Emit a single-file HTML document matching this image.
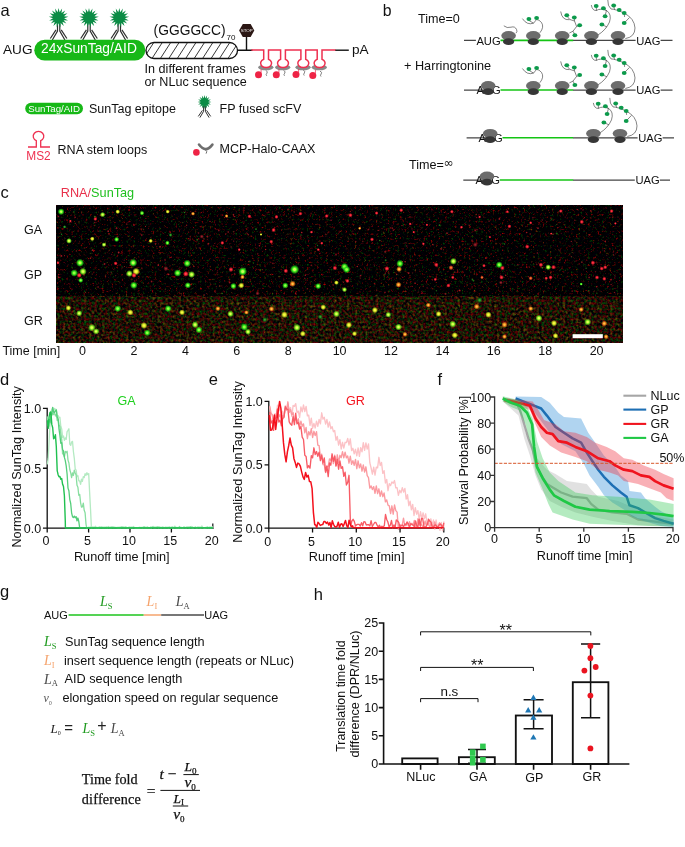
<!DOCTYPE html>
<html lang="en"><head><meta charset="utf-8"><title>Figure</title>
<style>
html,body{margin:0;padding:0;background:#fff;}
body{width:685px;height:847px;overflow:hidden;}
svg{display:block;font-family:"Liberation Sans", sans-serif;}
text{white-space:pre;}
</style></head><body>
<svg width="685" height="847" viewBox="0 0 685 847">
<rect width="685" height="847" fill="#fff"/>
<!-- panel_a -->
<g>
<text x="0.5" y="15.6" font-size="16.5" fill="#111">a</text>
<text x="3" y="54.4" font-size="13.6" fill="#111">AUG</text>
<path d="M57.5 23.5 V31.1 L52.3 40" fill="none" stroke="#2e2e2e" stroke-width="1.2"/><path d="M56 29.9 L50.3 38.5" fill="none" stroke="#2e2e2e" stroke-width="1.2"/><path d="M59.8 23.5 V31.1 L64.9 40" fill="none" stroke="#2e2e2e" stroke-width="1.2"/><path d="M61.2 29.9 L66.9 38.5" fill="none" stroke="#2e2e2e" stroke-width="1.2"/>
<polygon points="58.6,7.9 59.6,12.2 62.1,8.6 61.5,12.9 65.2,10.5 63.1,14.3 67.4,13.3 64,16.2 68.4,16.8 64.2,18.2 68,20.4 63.6,20.2 66.4,23.6 62.4,21.8 63.8,26 60.6,22.9 60.4,27.3 58.6,23.3 56.8,27.3 56.6,22.9 53.4,26 54.8,21.8 50.8,23.6 53.6,20.2 49.2,20.4 53,18.2 48.8,16.8 53.2,16.2 49.8,13.3 54.1,14.3 52,10.5 55.7,12.9 55.1,8.6 57.6,12.2" fill="#0b8c45"/>
<path d="M87.8 23.5 V31.1 L82.7 40" fill="none" stroke="#2e2e2e" stroke-width="1.2"/><path d="M86.4 29.9 L80.7 38.5" fill="none" stroke="#2e2e2e" stroke-width="1.2"/><path d="M90.2 23.5 V31.1 L95.3 40" fill="none" stroke="#2e2e2e" stroke-width="1.2"/><path d="M91.6 29.9 L97.3 38.5" fill="none" stroke="#2e2e2e" stroke-width="1.2"/>
<polygon points="89,7.9 90,12.2 92.5,8.6 91.9,12.9 95.6,10.5 93.5,14.3 97.8,13.3 94.4,16.2 98.8,16.8 94.6,18.2 98.4,20.4 94,20.2 96.8,23.6 92.8,21.8 94.2,26 91,22.9 90.8,27.3 89,23.3 87.2,27.3 87,22.9 83.8,26 85.2,21.8 81.2,23.6 84,20.2 79.6,20.4 83.4,18.2 79.2,16.8 83.6,16.2 80.2,13.3 84.5,14.3 82.4,10.5 86.1,12.9 85.5,8.6 88,12.2" fill="#0b8c45"/>
<path d="M118.1 23.5 V31.1 L113 40" fill="none" stroke="#2e2e2e" stroke-width="1.2"/><path d="M116.7 29.9 L111 38.5" fill="none" stroke="#2e2e2e" stroke-width="1.2"/><path d="M120.5 23.5 V31.1 L125.6 40" fill="none" stroke="#2e2e2e" stroke-width="1.2"/><path d="M121.9 29.9 L127.6 38.5" fill="none" stroke="#2e2e2e" stroke-width="1.2"/>
<polygon points="119.3,7.9 120.3,12.2 122.8,8.6 122.2,12.9 125.9,10.5 123.8,14.3 128.1,13.3 124.7,16.2 129.1,16.8 124.9,18.2 128.7,20.4 124.3,20.2 127.1,23.6 123.1,21.8 124.5,26 121.3,22.9 121.1,27.3 119.3,23.3 117.5,27.3 117.3,22.9 114.1,26 115.5,21.8 111.5,23.6 114.3,20.2 109.9,20.4 113.7,18.2 109.5,16.8 113.9,16.2 110.5,13.3 114.8,14.3 112.7,10.5 116.4,12.9 115.8,8.6 118.3,12.2" fill="#0b8c45"/>
<rect x="34.3" y="39.8" width="111" height="20.8" rx="10.4" fill="#17b817"/>
<text x="41" y="53.0" font-size="13.8" fill="#fff">24xSunTag/AID</text>
<defs><clipPath id="capc"><rect x="146" y="42.5" width="91.5" height="16" rx="8"/></clipPath></defs>
<rect x="146" y="42.5" width="91.5" height="16" rx="8" fill="#fff"/>
<path d="M143.3 58.8 L154.1 42 M151.8 58.8 L162.6 42 M160.2 58.8 L171 42 M168.6 58.8 L179.4 42 M177.1 58.8 L187.9 42 M185.5 58.8 L196.3 42 M194 58.8 L204.8 42 M202.4 58.8 L213.2 42 M210.9 58.8 L221.7 42 M219.3 58.8 L230.1 42 M227.8 58.8 L238.6 42 M236.2 58.8 L247 42" stroke="#222" stroke-width="0.9" fill="none" clip-path="url(#capc)"/>
<rect x="146" y="42.5" width="91.5" height="16" rx="8" fill="none" stroke="#111" stroke-width="1.3"/>
<text x="153.6" y="34.6" font-size="13.8" fill="#111">(GGGGCC)</text>
<text x="226.6" y="40" font-size="8" fill="#111">70</text>
<text x="144.6" y="72.7" font-size="12.6" fill="#111">In different frames</text>
<text x="144.6" y="85.8" font-size="12.6" fill="#111">or NLuc sequence</text>
<path d="M237.5 50.2 H252.5 M246.5 50.2 V36" stroke="#111" stroke-width="1.4" fill="none"/>
<path d="M335 50.2 H348.8" stroke="#111" stroke-width="1.4" fill="none"/>
<polygon points="239.1,30.5 242.8,24.1 250.6,24.1 254.3,30.5 250.6,36.9 242.8,36.9" fill="#2b1714"/>
<text x="246.7" y="32.0" font-size="4.4" fill="#fff" text-anchor="middle">STOP</text>
<path d="M252 50.1 H263.7 M268.5 50.1 H280.6 M285.4 50.1 H300.9 M305.7 50.1 H317.2 M322 50.1 H334.8" stroke="#ee2f4f" stroke-width="1.5" fill="none" stroke-linecap="square"/>
<ellipse cx="265.8" cy="67.3" rx="7.6" ry="3.0" fill="#8a8a8a"/>
<path d="M263.7 50.1 V59.2 A5.5 4.4 0 1 0 268.5 59.2 V50.1" fill="#fff" stroke="#ee2f4f" stroke-width="1.5"/>
<ellipse cx="282.7" cy="67.3" rx="7.6" ry="3.0" fill="#8a8a8a"/>
<path d="M280.6 50.1 V59.2 A5.5 4.4 0 1 0 285.4 59.2 V50.1" fill="#fff" stroke="#ee2f4f" stroke-width="1.5"/>
<ellipse cx="303" cy="67.3" rx="7.6" ry="3.0" fill="#8a8a8a"/>
<path d="M300.9 50.1 V59.2 A5.5 4.4 0 1 0 305.7 59.2 V50.1" fill="#fff" stroke="#ee2f4f" stroke-width="1.5"/>
<ellipse cx="319.3" cy="67.3" rx="7.6" ry="3.0" fill="#8a8a8a"/>
<path d="M317.2 50.1 V59.2 A5.5 4.4 0 1 0 322 59.2 V50.1" fill="#fff" stroke="#ee2f4f" stroke-width="1.5"/>
<path d="M261.1 72.8 V69.3" stroke="#ee2345" stroke-width="0.7"/>
<circle cx="258.5" cy="74.8" r="3.5" fill="#ee2345"/>
<path d="M265.7 70.4 q2.6 1.2 1.2 2.8 q-1.4 1.4 -0.2 2.6" stroke="#707070" stroke-width="0.9" fill="none"/>
<path d="M278.9 72.8 V69.3" stroke="#ee2345" stroke-width="0.7"/>
<circle cx="276.3" cy="74.8" r="3.5" fill="#ee2345"/>
<path d="M283.5 70.4 q2.6 1.2 1.2 2.8 q-1.4 1.4 -0.2 2.6" stroke="#707070" stroke-width="0.9" fill="none"/>
<path d="M298.6 72.5 V69" stroke="#ee2345" stroke-width="0.7"/>
<circle cx="296.0" cy="74.5" r="3.5" fill="#ee2345"/>
<path d="M303.2 70.1 q2.6 1.2 1.2 2.8 q-1.4 1.4 -0.2 2.6" stroke="#707070" stroke-width="0.9" fill="none"/>
<path d="M315.4 73.5 V70" stroke="#ee2345" stroke-width="0.7"/>
<circle cx="312.8" cy="75.5" r="3.5" fill="#ee2345"/>
<path d="M320 71.1 q2.6 1.2 1.2 2.8 q-1.4 1.4 -0.2 2.6" stroke="#707070" stroke-width="0.9" fill="none"/>
<text x="352" y="54.4" font-size="13.6" fill="#111">pA</text>
<rect x="25.2" y="102.7" width="57.8" height="11.5" rx="5.75" fill="#17b817"/>
<text x="54.1" y="111.9" font-size="9.7" fill="#fff" text-anchor="middle">SunTag/AID</text>
<text x="89" y="112.9" font-size="12.5" fill="#111">SunTag epitope</text>
<path d="M203.6 106 V111.3 L199.9 117.6" fill="none" stroke="#2e2e2e" stroke-width="1"/><path d="M202.4 110.4 L198.3 116.4" fill="none" stroke="#2e2e2e" stroke-width="1"/><path d="M205.4 106 V111.3 L209.1 117.6" fill="none" stroke="#2e2e2e" stroke-width="1"/><path d="M206.6 110.4 L210.7 116.4" fill="none" stroke="#2e2e2e" stroke-width="1"/>
<polygon points="204.5,95.1 205.3,98.2 207.1,95.6 206.7,98.8 209.4,97.1 207.7,99.8 210.9,99.4 208.3,101.2 211.4,102 208.3,102.8 210.9,104.6 207.7,104.2 209.4,106.9 206.7,105.2 207.1,108.4 205.3,105.8 204.5,108.9 203.7,105.8 201.9,108.4 202.3,105.2 199.6,106.9 201.3,104.2 198.1,104.6 200.7,102.8 197.6,102 200.7,101.2 198.1,99.4 201.3,99.8 199.6,97.1 202.3,98.8 201.9,95.6 203.7,98.2" fill="#0b8c45"/>
<text x="219.6" y="113.2" font-size="12.5" fill="#111">FP fused scFV</text>
<path d="M28 147 H36.3 V140.6 A5.3 4.8 0 1 1 40.7 140.6 V147 H50" fill="none" stroke="#ee2f4f" stroke-width="1.3"/>
<text x="38.5" y="159.7" font-size="11.9" fill="#ee2f4f" text-anchor="middle">MS2</text>
<text x="57.6" y="153.8" font-size="12.5" fill="#111">RNA stem loops</text>
<circle cx="196.4" cy="152.4" r="3.3" fill="#ee2345"/>
<path d="M199 144.6 Q205.6 153.6 212.4 144.6" fill="none" stroke="#6e6e6e" stroke-width="2.6" stroke-linecap="round"/><path d="M205.5 150 q2.2 1.5 0.6 3.6" fill="none" stroke="#6e6e6e" stroke-width="1"/>
<text x="219.6" y="153.4" font-size="12.5" fill="#111">MCP-Halo-CAAX</text>
</g>
<!-- panel_b -->
<g>
<text x="382.8" y="16.4" font-size="15.8" fill="#111">b</text>
<text x="418" y="23" font-size="12.6" fill="#111">Time=0</text>
<text x="404" y="69.8" font-size="12.7" fill="#111">+ Harringtonine</text>
<text x="409" y="168.7" font-size="12.6" fill="#111">Time=<tspan dx="-0.4" dy="-1.3" font-size="12.2" font-family='"DejaVu Sans", "Liberation Sans", sans-serif'>∞</tspan></text>
<path d="M464 40.4 H475.9 M573 40.4 H635.6 M660.6 40.4 H672.5" stroke="#464646" stroke-width="1.25" fill="none"/>
<path d="M500.5 40.4 H573.2" stroke="#14c414" stroke-width="1.6" fill="none"/>
<text x="476.4" y="44.5" font-size="11.2" fill="#111">AUG</text>
<text x="636.2" y="44.5" font-size="11.2" fill="#111">UAG</text>
<path d="M464 90.0 H486.4 M573 90.0 H635.6 M660.6 90.0 H672.5" stroke="#464646" stroke-width="1.25" fill="none"/>
<path d="M500.5 90.0 H573.2" stroke="#14c414" stroke-width="1.6" fill="none"/>
<text x="476.4" y="94.1" font-size="11.2" fill="#111">AUG</text>
<text x="636.2" y="94.1" font-size="11.2" fill="#111">UAG</text>
<path d="M466.6 137.8 H488.4 M573 137.8 H637.6 M662.6 137.8 H674" stroke="#464646" stroke-width="1.25" fill="none"/>
<path d="M502.5 137.8 H573.2" stroke="#14c414" stroke-width="1.6" fill="none"/>
<text x="478.4" y="141.9" font-size="11.2" fill="#111">AUG</text>
<text x="638.2" y="141.9" font-size="11.2" fill="#111">UAG</text>
<path d="M463.3 180.0 H485.6 M573 180.0 H634.8 M659.8 180.0 H670" stroke="#464646" stroke-width="1.25" fill="none"/>
<path d="M499.7 180.0 H573.2" stroke="#14c414" stroke-width="1.6" fill="none"/>
<text x="475.59999999999997" y="184.1" font-size="11.2" fill="#111">AUG</text>
<text x="635.4000000000001" y="184.1" font-size="11.2" fill="#111">UAG</text>
<path transform="translate(0 0)" d="M503.8 25.8 Q507 28.5 511 27.2 T516.6 29.6 Q517.6 31.5 516 33.2" fill="none" stroke="#333" stroke-width="0.6"/>
<path transform="translate(0 0)" d="M539.9 32.8 Q544.5 27 541.5 22.5 Q539 19.5 536.6 19.5 L533.5 23.2 L529 20.5 M533.5 23.2 Q527 25.5 522.4 18.6" fill="none" stroke="#333" stroke-width="0.6"/>
<ellipse cx="528.9" cy="19" rx="2.4" ry="2.0" fill="#0c9a4b"/><ellipse cx="536.6" cy="18" rx="2.4" ry="2.0" fill="#0c9a4b"/>
<path transform="translate(0 0)" d="M569.4 33 L573 31.2 L575 35 M573 31.2 L576.6 26.5 L579.7 25.2 M576.6 26.5 L574.5 21 L574.3 17.8 M574.5 21 Q569 20.5 566.8 16 M569.5 19.7 Q562 20.5 560.7 11.5" fill="none" stroke="#333" stroke-width="0.6"/>
<ellipse cx="566.8" cy="15.3" rx="2.4" ry="2.0" fill="#0c9a4b"/><ellipse cx="574.3" cy="17.5" rx="2.4" ry="2.0" fill="#0c9a4b"/><ellipse cx="579.7" cy="25.2" rx="2.4" ry="2.0" fill="#0c9a4b"/><ellipse cx="574.9" cy="35.2" rx="2.4" ry="2.0" fill="#0c9a4b"/>
<path transform="translate(0 0)" d="M597.9 35 Q606 30 609.5 22 Q612 14 606.5 10.5 L603.4 8.5 M606.5 10.5 L605.1 15.5 M606.5 10.5 Q600 8 596.5 10.5 Q592.5 11 591.3 5 M596.5 10.5 L596.2 6.2 M607 27 L602 24.6" fill="none" stroke="#333" stroke-width="0.6"/>
<ellipse cx="596.2" cy="5.9" rx="2.4" ry="2.0" fill="#0c9a4b"/><ellipse cx="603.4" cy="8.3" rx="2.4" ry="2.0" fill="#0c9a4b"/><ellipse cx="605.1" cy="16.2" rx="2.4" ry="2.0" fill="#0c9a4b"/><ellipse cx="601.9" cy="24.5" rx="2.4" ry="2.0" fill="#0c9a4b"/>
<path transform="translate(0 0)" d="M625.3 38.6 Q635 37 635 28 Q634.5 18.5 624.2 13.1 Q615 9 611 9 Q607.5 6 607.8 0 M613.7 5.7 L614.5 9.6 M619.2 10 L619.8 11.5 M624.2 13.1 L624.6 17 M629.5 17.5 L624.2 23" fill="none" stroke="#333" stroke-width="0.6"/>
<ellipse cx="613.7" cy="5.5" rx="2.4" ry="2.0" fill="#0c9a4b"/><ellipse cx="619.2" cy="9.9" rx="2.4" ry="2.0" fill="#0c9a4b"/><ellipse cx="624.2" cy="13.1" rx="2.4" ry="2.0" fill="#0c9a4b"/><ellipse cx="624.2" cy="23" rx="2.4" ry="2.0" fill="#0c9a4b"/>
<ellipse cx="508.6" cy="35.7" rx="7.3" ry="4.6" fill="#6c6c6c"/><ellipse cx="508.6" cy="41.7" rx="5.6" ry="3.4" fill="#363636"/>
<ellipse cx="533.3" cy="35.7" rx="7.3" ry="4.6" fill="#6c6c6c"/><ellipse cx="533.3" cy="41.7" rx="5.6" ry="3.4" fill="#363636"/>
<ellipse cx="562.2" cy="35.7" rx="7.3" ry="4.6" fill="#6c6c6c"/><ellipse cx="562.2" cy="41.7" rx="5.6" ry="3.4" fill="#363636"/>
<ellipse cx="591.4" cy="35.7" rx="7.3" ry="4.6" fill="#6c6c6c"/><ellipse cx="591.4" cy="41.7" rx="5.6" ry="3.4" fill="#363636"/>
<ellipse cx="618" cy="35.7" rx="7.3" ry="4.6" fill="#6c6c6c"/><ellipse cx="618" cy="41.7" rx="5.6" ry="3.4" fill="#363636"/>
<path transform="translate(0 49.9)" d="M539.9 32.8 Q544.5 27 541.5 22.5 Q539 19.5 536.6 19.5 L533.5 23.2 L529 20.5 M533.5 23.2 Q527 25.5 522.4 18.6" fill="none" stroke="#333" stroke-width="0.6"/>
<ellipse cx="528.9" cy="68.9" rx="2.4" ry="2.0" fill="#0c9a4b"/><ellipse cx="536.6" cy="67.9" rx="2.4" ry="2.0" fill="#0c9a4b"/>
<path transform="translate(0 49.9)" d="M569.4 33 L573 31.2 L575 35 M573 31.2 L576.6 26.5 L579.7 25.2 M576.6 26.5 L574.5 21 L574.3 17.8 M574.5 21 Q569 20.5 566.8 16 M569.5 19.7 Q562 20.5 560.7 11.5" fill="none" stroke="#333" stroke-width="0.6"/>
<ellipse cx="566.8" cy="65.2" rx="2.4" ry="2.0" fill="#0c9a4b"/><ellipse cx="574.3" cy="67.4" rx="2.4" ry="2.0" fill="#0c9a4b"/><ellipse cx="579.7" cy="75.1" rx="2.4" ry="2.0" fill="#0c9a4b"/><ellipse cx="574.9" cy="85.1" rx="2.4" ry="2.0" fill="#0c9a4b"/>
<path transform="translate(0 49.9)" d="M597.9 35 Q606 30 609.5 22 Q612 14 606.5 10.5 L603.4 8.5 M606.5 10.5 L605.1 15.5 M606.5 10.5 Q600 8 596.5 10.5 Q592.5 11 591.3 5 M596.5 10.5 L596.2 6.2 M607 27 L602 24.6" fill="none" stroke="#333" stroke-width="0.6"/>
<ellipse cx="596.2" cy="55.8" rx="2.4" ry="2.0" fill="#0c9a4b"/><ellipse cx="603.4" cy="58.2" rx="2.4" ry="2.0" fill="#0c9a4b"/><ellipse cx="605.1" cy="66.1" rx="2.4" ry="2.0" fill="#0c9a4b"/><ellipse cx="601.9" cy="74.4" rx="2.4" ry="2.0" fill="#0c9a4b"/>
<path transform="translate(0 49.9)" d="M625.3 38.6 Q635 37 635 28 Q634.5 18.5 624.2 13.1 Q615 9 611 9 Q607.5 6 607.8 0 M613.7 5.7 L614.5 9.6 M619.2 10 L619.8 11.5 M624.2 13.1 L624.6 17 M629.5 17.5 L624.2 23" fill="none" stroke="#333" stroke-width="0.6"/>
<ellipse cx="613.7" cy="55.4" rx="2.4" ry="2.0" fill="#0c9a4b"/><ellipse cx="619.2" cy="59.8" rx="2.4" ry="2.0" fill="#0c9a4b"/><ellipse cx="624.2" cy="63" rx="2.4" ry="2.0" fill="#0c9a4b"/><ellipse cx="624.2" cy="72.9" rx="2.4" ry="2.0" fill="#0c9a4b"/>
<ellipse cx="488.2" cy="85.7" rx="7.3" ry="4.6" fill="#6c6c6c"/><ellipse cx="488.2" cy="91.7" rx="5.6" ry="3.4" fill="#363636"/>
<ellipse cx="533.3" cy="85.7" rx="7.3" ry="4.6" fill="#6c6c6c"/><ellipse cx="533.3" cy="91.7" rx="5.6" ry="3.4" fill="#363636"/>
<ellipse cx="562.2" cy="85.7" rx="7.3" ry="4.6" fill="#6c6c6c"/><ellipse cx="562.2" cy="91.7" rx="5.6" ry="3.4" fill="#363636"/>
<ellipse cx="591.4" cy="85.7" rx="7.3" ry="4.6" fill="#6c6c6c"/><ellipse cx="591.4" cy="91.7" rx="5.6" ry="3.4" fill="#363636"/>
<ellipse cx="618" cy="85.7" rx="7.3" ry="4.6" fill="#6c6c6c"/><ellipse cx="618" cy="91.7" rx="5.6" ry="3.4" fill="#363636"/>
<path transform="translate(2 97.9)" d="M597.9 35 Q606 30 609.5 22 Q612 14 606.5 10.5 L603.4 8.5 M606.5 10.5 L605.1 15.5 M606.5 10.5 Q600 8 596.5 10.5 Q592.5 11 591.3 5 M596.5 10.5 L596.2 6.2 M607 27 L602 24.6" fill="none" stroke="#333" stroke-width="0.6"/>
<ellipse cx="598.2" cy="103.8" rx="2.4" ry="2.0" fill="#0c9a4b"/><ellipse cx="605.4" cy="106.2" rx="2.4" ry="2.0" fill="#0c9a4b"/><ellipse cx="607.1" cy="114.1" rx="2.4" ry="2.0" fill="#0c9a4b"/><ellipse cx="603.9" cy="122.4" rx="2.4" ry="2.0" fill="#0c9a4b"/>
<path transform="translate(2 97.9)" d="M625.3 38.6 Q635 37 635 28 Q634.5 18.5 624.2 13.1 Q615 9 611 9 Q607.5 6 607.8 0 M613.7 5.7 L614.5 9.6 M619.2 10 L619.8 11.5 M624.2 13.1 L624.6 17 M629.5 17.5 L624.2 23" fill="none" stroke="#333" stroke-width="0.6"/>
<ellipse cx="615.7" cy="103.4" rx="2.4" ry="2.0" fill="#0c9a4b"/><ellipse cx="621.2" cy="107.8" rx="2.4" ry="2.0" fill="#0c9a4b"/><ellipse cx="626.2" cy="111" rx="2.4" ry="2.0" fill="#0c9a4b"/><ellipse cx="626.2" cy="120.9" rx="2.4" ry="2.0" fill="#0c9a4b"/>
<ellipse cx="490.2" cy="133.6" rx="7.3" ry="4.6" fill="#6c6c6c"/><ellipse cx="490.2" cy="139.6" rx="5.6" ry="3.4" fill="#363636"/>
<ellipse cx="593.4" cy="133.6" rx="7.3" ry="4.6" fill="#6c6c6c"/><ellipse cx="593.4" cy="139.6" rx="5.6" ry="3.4" fill="#363636"/>
<ellipse cx="620" cy="133.6" rx="7.3" ry="4.6" fill="#6c6c6c"/><ellipse cx="620" cy="139.6" rx="5.6" ry="3.4" fill="#363636"/>
<ellipse cx="487" cy="176.2" rx="7.3" ry="4.6" fill="#6c6c6c"/><ellipse cx="487" cy="182.2" rx="5.6" ry="3.4" fill="#363636"/>
</g>
<!-- panel_c -->
<g>
<text x="0.4" y="197.8" font-size="16.5" fill="#111">c</text>
<text x="60.8" y="197.4" font-size="12.7"><tspan fill="#e8304a">RNA/</tspan><tspan fill="#1fc01f">SunTag</tspan></text>
<defs>
<filter id="nz1" x="0" y="0" width="100%" height="100%" color-interpolation-filters="sRGB">
<feTurbulence type="fractalNoise" baseFrequency="0.42" numOctaves="2" seed="7"/>
<feColorMatrix type="matrix" values="2.2 0 0 0 -1.3  0 1.2 0 0 -0.74  0 0 0.1 0 -0.04  0 0 0 0 1"/><feGaussianBlur stdDeviation="0.5"/>
</filter>
<filter id="nz2" x="0" y="0" width="100%" height="100%" color-interpolation-filters="sRGB">
<feTurbulence type="fractalNoise" baseFrequency="0.38" numOctaves="2" seed="23"/>
<feColorMatrix type="matrix" values="0.95 0 0 0 -0.35  0 0.8 0 0 -0.335  0 0 0.1 0 -0.03  0 0 0 0 1"/><feGaussianBlur stdDeviation="0.6"/>
</filter>
<filter id="bl" x="-50%" y="-50%" width="200%" height="200%"><feGaussianBlur stdDeviation="0.7"/></filter>
<radialGradient id="gG"><stop offset="0" stop-color="#c8ff58"/><stop offset="0.22" stop-color="#c8ff58"/><stop offset="0.5" stop-color="#34ea1a"/><stop offset="0.75" stop-color="#34ea1a" stop-opacity="0.5"/><stop offset="1" stop-color="#34ea1a" stop-opacity="0"/></radialGradient><radialGradient id="gg"><stop offset="0" stop-color="#98ff44"/><stop offset="0.22" stop-color="#98ff44"/><stop offset="0.5" stop-color="#2adc18"/><stop offset="0.75" stop-color="#2adc18" stop-opacity="0.5"/><stop offset="1" stop-color="#2adc18" stop-opacity="0"/></radialGradient><radialGradient id="gl"><stop offset="0" stop-color="#e4ff54"/><stop offset="0.22" stop-color="#e4ff54"/><stop offset="0.5" stop-color="#78e222"/><stop offset="0.75" stop-color="#78e222" stop-opacity="0.5"/><stop offset="1" stop-color="#78e222" stop-opacity="0"/></radialGradient><radialGradient id="gy"><stop offset="0" stop-color="#fafa44"/><stop offset="0.22" stop-color="#fafa44"/><stop offset="0.5" stop-color="#c4d422"/><stop offset="0.75" stop-color="#c4d422" stop-opacity="0.5"/><stop offset="1" stop-color="#c4d422" stop-opacity="0"/></radialGradient><radialGradient id="gY"><stop offset="0" stop-color="#fafa44"/><stop offset="0.22" stop-color="#fafa44"/><stop offset="0.5" stop-color="#c4d422"/><stop offset="0.75" stop-color="#c4d422" stop-opacity="0.5"/><stop offset="1" stop-color="#c4d422" stop-opacity="0"/></radialGradient><radialGradient id="go"><stop offset="0" stop-color="#ffc444"/><stop offset="0.22" stop-color="#ffc444"/><stop offset="0.5" stop-color="#e07418"/><stop offset="0.75" stop-color="#e07418" stop-opacity="0.5"/><stop offset="1" stop-color="#e07418" stop-opacity="0"/></radialGradient><radialGradient id="gr"><stop offset="0" stop-color="#ff3444"/><stop offset="0.22" stop-color="#ff3444"/><stop offset="0.5" stop-color="#c41626"/><stop offset="0.75" stop-color="#c41626" stop-opacity="0.5"/><stop offset="1" stop-color="#c41626" stop-opacity="0"/></radialGradient><radialGradient id="gR"><stop offset="0" stop-color="#ff444c"/><stop offset="0.22" stop-color="#ff444c"/><stop offset="0.5" stop-color="#e21a2a"/><stop offset="0.75" stop-color="#e21a2a" stop-opacity="0.5"/><stop offset="1" stop-color="#e21a2a" stop-opacity="0"/></radialGradient><radialGradient id="gd"><stop offset="0" stop-color="#98222a"/><stop offset="0.22" stop-color="#98222a"/><stop offset="0.5" stop-color="#621018"/><stop offset="0.75" stop-color="#621018" stop-opacity="0.5"/><stop offset="1" stop-color="#621018" stop-opacity="0"/></radialGradient><radialGradient id="gk"><stop offset="0" stop-color="#34a42a"/><stop offset="0.22" stop-color="#34a42a"/><stop offset="0.5" stop-color="#186a18"/><stop offset="0.75" stop-color="#186a18" stop-opacity="0.5"/><stop offset="1" stop-color="#186a18" stop-opacity="0"/></radialGradient><radialGradient id="gp"><stop offset="0" stop-color="#f87432"/><stop offset="0.22" stop-color="#f87432"/><stop offset="0.5" stop-color="#c23e1c"/><stop offset="0.75" stop-color="#c23e1c" stop-opacity="0.5"/><stop offset="1" stop-color="#c23e1c" stop-opacity="0"/></radialGradient>
<clipPath id="imc"><rect x="56.9" y="205.8" width="565.3" height="136.6"/></clipPath>
</defs>
<rect x="56.9" y="205.8" width="565.3000000000001" height="136.59999999999997" fill="#040303"/>
<rect x="56.9" y="205.8" width="565.3000000000001" height="91.0" filter="url(#nz1)"/>
<rect x="56.9" y="296.8" width="565.3000000000001" height="45.599999999999966" filter="url(#nz2)"/>
<g filter="url(#bl)" clip-path="url(#imc)"><circle cx="408.7" cy="273" r="0.85" fill="#c01c28" opacity="0.87"/><circle cx="577.3" cy="209.6" r="0.68" fill="#c01c28" opacity="0.87"/><circle cx="565.2" cy="217.1" r="0.68" fill="#c01c28" opacity="0.49"/><circle cx="381.1" cy="208.2" r="0.56" fill="#2a9a20" opacity="0.50"/><circle cx="489.1" cy="221.2" r="0.85" fill="#c01c28" opacity="0.43"/><circle cx="129.3" cy="207.2" r="0.89" fill="#c01c28" opacity="0.47"/><circle cx="611.1" cy="284.6" r="0.59" fill="#c01c28" opacity="0.88"/><circle cx="439.6" cy="225.2" r="0.92" fill="#2a9a20" opacity="0.73"/><circle cx="561.2" cy="233.6" r="0.63" fill="#c01c28" opacity="0.44"/><circle cx="94.7" cy="233.8" r="0.75" fill="#c01c28" opacity="0.35"/><circle cx="248.2" cy="234.6" r="0.86" fill="#c01c28" opacity="0.61"/><circle cx="328.9" cy="269.7" r="0.48" fill="#c01c28" opacity="0.89"/><circle cx="480.1" cy="282.2" r="0.46" fill="#c01c28" opacity="0.78"/><circle cx="383.7" cy="207.8" r="0.47" fill="#2a9a20" opacity="0.45"/><circle cx="168.6" cy="274.3" r="0.91" fill="#c01c28" opacity="0.87"/><circle cx="257.7" cy="253.7" r="0.84" fill="#c01c28" opacity="0.41"/><circle cx="506.8" cy="283.5" r="0.47" fill="#c01c28" opacity="0.87"/><circle cx="249.8" cy="261.4" r="0.91" fill="#2a9a20" opacity="0.54"/><circle cx="364.9" cy="234.8" r="0.61" fill="#c01c28" opacity="0.45"/><circle cx="141.8" cy="268.3" r="0.95" fill="#c01c28" opacity="0.44"/><circle cx="613.5" cy="254.5" r="0.65" fill="#c01c28" opacity="0.48"/><circle cx="523.2" cy="247.6" r="0.66" fill="#2a9a20" opacity="0.38"/><circle cx="76.4" cy="250.9" r="0.87" fill="#c01c28" opacity="0.42"/><circle cx="592.7" cy="263.1" r="0.84" fill="#c01c28" opacity="0.41"/><circle cx="142" cy="282.2" r="0.60" fill="#2a9a20" opacity="0.60"/><circle cx="537.8" cy="293.9" r="0.68" fill="#c01c28" opacity="0.62"/><circle cx="327.7" cy="232.9" r="0.65" fill="#c01c28" opacity="0.43"/><circle cx="614.5" cy="292.4" r="0.76" fill="#c01c28" opacity="0.62"/><circle cx="108.2" cy="231.2" r="0.84" fill="#c01c28" opacity="0.83"/><circle cx="500.5" cy="276" r="0.80" fill="#c01c28" opacity="0.72"/><circle cx="262.6" cy="269.7" r="0.59" fill="#c01c28" opacity="0.62"/><circle cx="447" cy="233.2" r="0.92" fill="#c01c28" opacity="0.71"/><circle cx="64.5" cy="255.7" r="0.58" fill="#c01c28" opacity="0.72"/><circle cx="517.8" cy="264.6" r="0.85" fill="#c01c28" opacity="0.54"/><circle cx="473.4" cy="280.7" r="0.63" fill="#2a9a20" opacity="0.81"/><circle cx="445.5" cy="293.9" r="0.93" fill="#c01c28" opacity="0.63"/><circle cx="151.6" cy="281.5" r="0.92" fill="#c01c28" opacity="0.61"/><circle cx="463.2" cy="272" r="0.54" fill="#c01c28" opacity="0.78"/><circle cx="432.7" cy="244.5" r="0.76" fill="#c01c28" opacity="0.78"/><circle cx="463.6" cy="209.5" r="0.53" fill="#c01c28" opacity="0.59"/><circle cx="181.3" cy="268.1" r="0.77" fill="#c01c28" opacity="0.37"/><circle cx="185.4" cy="211.8" r="0.52" fill="#c01c28" opacity="0.52"/><circle cx="166.9" cy="210.2" r="0.68" fill="#c01c28" opacity="0.56"/><circle cx="390.3" cy="228.2" r="0.90" fill="#c01c28" opacity="0.35"/><circle cx="214.8" cy="243.5" r="0.51" fill="#c01c28" opacity="0.81"/><circle cx="78.3" cy="261.6" r="0.50" fill="#c01c28" opacity="0.65"/><circle cx="385" cy="292.3" r="0.86" fill="#c01c28" opacity="0.58"/><circle cx="419.6" cy="239.9" r="0.52" fill="#c01c28" opacity="0.68"/><circle cx="596.9" cy="293.2" r="0.75" fill="#2a9a20" opacity="0.54"/><circle cx="58.5" cy="216.6" r="0.73" fill="#c01c28" opacity="0.69"/><circle cx="412.4" cy="286.3" r="0.64" fill="#c01c28" opacity="0.59"/><circle cx="222.1" cy="293.5" r="0.64" fill="#2a9a20" opacity="0.88"/><circle cx="393.4" cy="230.1" r="0.94" fill="#c01c28" opacity="0.62"/><circle cx="237.7" cy="294.6" r="0.70" fill="#c01c28" opacity="0.51"/><circle cx="126.6" cy="262.3" r="0.67" fill="#c01c28" opacity="0.51"/><circle cx="523.5" cy="208.2" r="0.72" fill="#2a9a20" opacity="0.50"/><circle cx="498.2" cy="228.9" r="0.58" fill="#2a9a20" opacity="0.44"/><circle cx="223.1" cy="261.1" r="0.69" fill="#c01c28" opacity="0.70"/><circle cx="476.6" cy="217.5" r="0.83" fill="#c01c28" opacity="0.52"/><circle cx="247.2" cy="233.4" r="0.71" fill="#c01c28" opacity="0.61"/><circle cx="477.4" cy="259.6" r="0.47" fill="#c01c28" opacity="0.49"/><circle cx="574" cy="286" r="0.72" fill="#c01c28" opacity="0.36"/><circle cx="298.8" cy="258.2" r="0.80" fill="#c01c28" opacity="0.70"/><circle cx="571.3" cy="241.3" r="0.65" fill="#c01c28" opacity="0.82"/><circle cx="224.9" cy="280.9" r="0.48" fill="#c01c28" opacity="0.81"/><circle cx="301.7" cy="232.5" r="0.84" fill="#c01c28" opacity="0.85"/><circle cx="327.3" cy="255.9" r="0.70" fill="#c01c28" opacity="0.53"/><circle cx="387.8" cy="279.3" r="0.48" fill="#c01c28" opacity="0.48"/><circle cx="503.8" cy="266.1" r="0.46" fill="#2a9a20" opacity="0.75"/><circle cx="620.1" cy="269.4" r="0.47" fill="#c01c28" opacity="0.81"/><circle cx="421.6" cy="291.7" r="0.81" fill="#c01c28" opacity="0.42"/><circle cx="574.8" cy="220.3" r="0.76" fill="#c01c28" opacity="0.58"/><circle cx="408.4" cy="210.9" r="0.50" fill="#c01c28" opacity="0.56"/><circle cx="90.4" cy="258.2" r="0.82" fill="#c01c28" opacity="0.83"/><circle cx="301" cy="235" r="0.75" fill="#2a9a20" opacity="0.62"/><circle cx="268.7" cy="212" r="0.80" fill="#c01c28" opacity="0.43"/><circle cx="342.8" cy="288" r="0.73" fill="#c01c28" opacity="0.69"/><circle cx="368.6" cy="229.6" r="0.83" fill="#c01c28" opacity="0.63"/><circle cx="190" cy="240" r="0.82" fill="#c01c28" opacity="0.45"/><circle cx="426.8" cy="214.6" r="0.78" fill="#c01c28" opacity="0.40"/><circle cx="392.4" cy="228.2" r="0.89" fill="#c01c28" opacity="0.61"/><circle cx="506.4" cy="209.6" r="0.81" fill="#c01c28" opacity="0.38"/><circle cx="594" cy="267.6" r="0.56" fill="#2a9a20" opacity="0.41"/><circle cx="432.4" cy="280" r="0.52" fill="#c01c28" opacity="0.69"/><circle cx="190.3" cy="236.7" r="0.76" fill="#c01c28" opacity="0.54"/><circle cx="134.8" cy="281" r="0.77" fill="#c01c28" opacity="0.79"/><circle cx="537.4" cy="253.1" r="0.75" fill="#c01c28" opacity="0.67"/><circle cx="280.7" cy="215.6" r="0.47" fill="#c01c28" opacity="0.46"/><circle cx="558.7" cy="249.8" r="0.83" fill="#c01c28" opacity="0.35"/><circle cx="558.9" cy="262.1" r="0.66" fill="#c01c28" opacity="0.61"/><circle cx="145.1" cy="221.2" r="0.64" fill="#2a9a20" opacity="0.56"/><circle cx="143.6" cy="229.6" r="0.59" fill="#c01c28" opacity="0.44"/><circle cx="190.4" cy="249.9" r="0.47" fill="#c01c28" opacity="0.86"/><circle cx="586.1" cy="268.2" r="0.79" fill="#2a9a20" opacity="0.61"/><circle cx="124.4" cy="266.5" r="0.60" fill="#c01c28" opacity="0.72"/><circle cx="149.9" cy="224.9" r="0.46" fill="#c01c28" opacity="0.48"/><circle cx="283.8" cy="293.6" r="0.63" fill="#c01c28" opacity="0.52"/><circle cx="217.4" cy="272.2" r="0.81" fill="#c01c28" opacity="0.44"/><circle cx="436.4" cy="290.7" r="0.77" fill="#2a9a20" opacity="0.59"/><circle cx="61.5" cy="212.4" r="0.84" fill="#c01c28" opacity="0.58"/><circle cx="366.8" cy="295.1" r="0.71" fill="#c01c28" opacity="0.54"/><circle cx="98.1" cy="287" r="0.70" fill="#c01c28" opacity="0.86"/><circle cx="195.1" cy="211.5" r="0.65" fill="#c01c28" opacity="0.38"/><circle cx="287.4" cy="234.2" r="0.48" fill="#2a9a20" opacity="0.37"/><circle cx="159" cy="252.3" r="0.65" fill="#c01c28" opacity="0.64"/><circle cx="234.7" cy="216.6" r="0.72" fill="#c01c28" opacity="0.86"/><circle cx="540.4" cy="226.1" r="0.46" fill="#c01c28" opacity="0.65"/><circle cx="379.7" cy="240.5" r="0.76" fill="#2a9a20" opacity="0.75"/><circle cx="231.2" cy="247" r="0.86" fill="#c01c28" opacity="0.47"/><circle cx="233.5" cy="214.8" r="0.84" fill="#c01c28" opacity="0.80"/><circle cx="131.1" cy="214.3" r="0.57" fill="#c01c28" opacity="0.40"/><circle cx="382.8" cy="228.8" r="0.48" fill="#c01c28" opacity="0.74"/><circle cx="170.5" cy="232.5" r="0.64" fill="#c01c28" opacity="0.40"/><circle cx="234.7" cy="274" r="0.73" fill="#c01c28" opacity="0.84"/><circle cx="485.7" cy="258.2" r="0.67" fill="#c01c28" opacity="0.80"/><circle cx="595.5" cy="271.8" r="0.80" fill="#c01c28" opacity="0.50"/><circle cx="273.3" cy="218.6" r="0.48" fill="#c01c28" opacity="0.44"/><circle cx="438.5" cy="232.4" r="0.48" fill="#c01c28" opacity="0.77"/><circle cx="73.5" cy="211.5" r="0.52" fill="#2a9a20" opacity="0.55"/><circle cx="592.4" cy="261.5" r="0.57" fill="#c01c28" opacity="0.59"/><circle cx="244" cy="208.1" r="0.74" fill="#c01c28" opacity="0.80"/><circle cx="111.7" cy="254.2" r="0.54" fill="#c01c28" opacity="0.74"/><circle cx="586.4" cy="277.7" r="0.51" fill="#2a9a20" opacity="0.52"/><circle cx="317.5" cy="245.6" r="0.67" fill="#2a9a20" opacity="0.77"/><circle cx="357.9" cy="293.3" r="0.75" fill="#c01c28" opacity="0.41"/><circle cx="294.2" cy="211.7" r="0.94" fill="#c01c28" opacity="0.37"/><circle cx="329.4" cy="285.5" r="0.65" fill="#c01c28" opacity="0.47"/><circle cx="171.3" cy="257.1" r="0.63" fill="#c01c28" opacity="0.76"/><circle cx="256" cy="229.1" r="0.94" fill="#2a9a20" opacity="0.81"/><circle cx="406" cy="242.7" r="0.52" fill="#c01c28" opacity="0.81"/><circle cx="79.2" cy="222.1" r="0.50" fill="#2a9a20" opacity="0.74"/><circle cx="170.2" cy="277.9" r="0.61" fill="#2a9a20" opacity="0.73"/><circle cx="408.8" cy="278.2" r="0.64" fill="#c01c28" opacity="0.36"/><circle cx="388.3" cy="223.4" r="0.64" fill="#c01c28" opacity="0.52"/><circle cx="233.7" cy="241.1" r="0.69" fill="#c01c28" opacity="0.74"/><circle cx="611.1" cy="279.6" r="0.91" fill="#c01c28" opacity="0.73"/><circle cx="360.2" cy="278.1" r="0.63" fill="#c01c28" opacity="0.68"/><circle cx="352" cy="232.3" r="0.49" fill="#c01c28" opacity="0.40"/><circle cx="384.8" cy="274.6" r="0.81" fill="#2a9a20" opacity="0.52"/><circle cx="212.6" cy="270.7" r="0.49" fill="#c01c28" opacity="0.76"/><circle cx="596.7" cy="286.8" r="0.79" fill="#c01c28" opacity="0.81"/><circle cx="402" cy="225.6" r="0.71" fill="#c01c28" opacity="0.84"/><circle cx="606.7" cy="255.4" r="0.65" fill="#c01c28" opacity="0.35"/><circle cx="158.3" cy="265.1" r="0.90" fill="#c01c28" opacity="0.85"/><circle cx="275.7" cy="216.7" r="0.79" fill="#c01c28" opacity="0.65"/><circle cx="268.6" cy="285.9" r="0.56" fill="#c01c28" opacity="0.52"/><circle cx="408.3" cy="286.9" r="0.53" fill="#c01c28" opacity="0.70"/><circle cx="184.5" cy="212.6" r="0.73" fill="#2a9a20" opacity="0.81"/><circle cx="467.9" cy="244.1" r="0.66" fill="#2a9a20" opacity="0.64"/><circle cx="228.2" cy="232" r="0.75" fill="#c01c28" opacity="0.88"/><circle cx="75.2" cy="217.3" r="0.73" fill="#c01c28" opacity="0.68"/><circle cx="165.1" cy="259.9" r="0.77" fill="#c01c28" opacity="0.73"/><circle cx="92.6" cy="250.1" r="0.87" fill="#c01c28" opacity="0.88"/><circle cx="536.7" cy="264.4" r="0.91" fill="#c01c28" opacity="0.48"/><circle cx="531.3" cy="249.4" r="0.50" fill="#c01c28" opacity="0.46"/><circle cx="110.3" cy="220.5" r="0.76" fill="#c01c28" opacity="0.41"/><circle cx="472.5" cy="279.7" r="0.85" fill="#2a9a20" opacity="0.74"/><circle cx="596.7" cy="262.6" r="0.93" fill="#c01c28" opacity="0.41"/><circle cx="94.3" cy="225.4" r="0.64" fill="#c01c28" opacity="0.60"/><circle cx="476.3" cy="214.5" r="0.65" fill="#c01c28" opacity="0.65"/><circle cx="124.2" cy="260.1" r="0.64" fill="#c01c28" opacity="0.73"/><circle cx="600" cy="291.1" r="0.49" fill="#c01c28" opacity="0.77"/><circle cx="224.6" cy="217.4" r="0.69" fill="#c01c28" opacity="0.54"/><circle cx="575.1" cy="241" r="0.60" fill="#c01c28" opacity="0.62"/><circle cx="502.2" cy="258.2" r="0.60" fill="#2a9a20" opacity="0.54"/><circle cx="350.3" cy="211.5" r="0.66" fill="#c01c28" opacity="0.48"/><circle cx="99.3" cy="231.1" r="0.50" fill="#2a9a20" opacity="0.61"/><circle cx="362.8" cy="241.4" r="0.92" fill="#c01c28" opacity="0.40"/><circle cx="514.5" cy="207.5" r="0.83" fill="#c01c28" opacity="0.55"/><circle cx="199.2" cy="247.8" r="0.64" fill="#c01c28" opacity="0.63"/><circle cx="181.1" cy="293.7" r="0.67" fill="#c01c28" opacity="0.61"/><circle cx="215.2" cy="292" r="0.79" fill="#c01c28" opacity="0.63"/><circle cx="279.1" cy="276.3" r="0.67" fill="#2a9a20" opacity="0.68"/><circle cx="421.2" cy="263.6" r="0.47" fill="#c01c28" opacity="0.36"/><circle cx="290.7" cy="284.8" r="0.86" fill="#c01c28" opacity="0.85"/><circle cx="620.5" cy="274.3" r="0.90" fill="#c01c28" opacity="0.43"/><circle cx="295.7" cy="293.5" r="0.95" fill="#c01c28" opacity="0.47"/><circle cx="210.5" cy="248.8" r="0.59" fill="#c01c28" opacity="0.72"/><circle cx="153.3" cy="247.7" r="0.49" fill="#2a9a20" opacity="0.56"/><circle cx="556.4" cy="224.5" r="0.46" fill="#2a9a20" opacity="0.81"/><circle cx="395.2" cy="219.1" r="0.57" fill="#2a9a20" opacity="0.86"/><circle cx="75.5" cy="223.4" r="0.66" fill="#c01c28" opacity="0.50"/><circle cx="268" cy="276" r="0.53" fill="#2a9a20" opacity="0.64"/><circle cx="453.2" cy="215" r="0.51" fill="#c01c28" opacity="0.70"/><circle cx="265.6" cy="249.5" r="0.74" fill="#c01c28" opacity="0.88"/><circle cx="378.2" cy="230.4" r="0.72" fill="#c01c28" opacity="0.75"/><circle cx="328.9" cy="269.8" r="0.45" fill="#c01c28" opacity="0.77"/><circle cx="341.8" cy="261.3" r="0.85" fill="#c01c28" opacity="0.38"/><circle cx="79.6" cy="241.3" r="0.62" fill="#c01c28" opacity="0.36"/><circle cx="311.4" cy="265.3" r="0.91" fill="#c01c28" opacity="0.55"/><circle cx="459.5" cy="290.4" r="0.92" fill="#c01c28" opacity="0.89"/><circle cx="151.8" cy="289.9" r="0.49" fill="#c01c28" opacity="0.60"/><circle cx="355.7" cy="241.6" r="0.91" fill="#c01c28" opacity="0.51"/><circle cx="525.1" cy="219.3" r="0.63" fill="#c01c28" opacity="0.62"/><circle cx="174.7" cy="247.4" r="0.48" fill="#c01c28" opacity="0.40"/><circle cx="139" cy="293.1" r="0.58" fill="#c01c28" opacity="0.50"/><circle cx="475.3" cy="230.3" r="0.86" fill="#c01c28" opacity="0.69"/><circle cx="412" cy="228.9" r="0.58" fill="#c01c28" opacity="0.83"/><circle cx="563.2" cy="222.7" r="0.52" fill="#c01c28" opacity="0.38"/><circle cx="374" cy="207.9" r="0.47" fill="#c01c28" opacity="0.80"/><circle cx="548.6" cy="210.5" r="0.74" fill="#c01c28" opacity="0.41"/><circle cx="402.2" cy="261.5" r="0.56" fill="#c01c28" opacity="0.87"/><circle cx="94.1" cy="267.9" r="0.50" fill="#c01c28" opacity="0.39"/><circle cx="423.3" cy="286.4" r="0.81" fill="#c01c28" opacity="0.39"/><circle cx="533" cy="217.7" r="0.83" fill="#c01c28" opacity="0.49"/><circle cx="58.8" cy="274.5" r="0.71" fill="#c01c28" opacity="0.85"/><circle cx="145.5" cy="226.3" r="0.58" fill="#c01c28" opacity="0.87"/><circle cx="107.7" cy="238.4" r="0.49" fill="#c01c28" opacity="0.58"/><circle cx="424.3" cy="222.6" r="0.52" fill="#c01c28" opacity="0.62"/><circle cx="309.7" cy="258" r="0.91" fill="#c01c28" opacity="0.43"/><circle cx="336" cy="254.7" r="0.90" fill="#c01c28" opacity="0.66"/><circle cx="294.2" cy="276.8" r="0.87" fill="#c01c28" opacity="0.51"/><circle cx="203.9" cy="238.8" r="0.89" fill="#c01c28" opacity="0.50"/><circle cx="418.7" cy="292.1" r="0.51" fill="#c01c28" opacity="0.77"/><circle cx="116" cy="263.3" r="0.87" fill="#c01c28" opacity="0.67"/><circle cx="605.3" cy="241.2" r="0.77" fill="#c01c28" opacity="0.75"/><circle cx="287.9" cy="236.3" r="0.50" fill="#c01c28" opacity="0.39"/><circle cx="289.1" cy="284.4" r="0.48" fill="#c01c28" opacity="0.52"/><circle cx="589.1" cy="277.4" r="0.90" fill="#c01c28" opacity="0.63"/><circle cx="292.3" cy="227.1" r="0.46" fill="#c01c28" opacity="0.66"/><circle cx="118.7" cy="252.5" r="0.92" fill="#c01c28" opacity="0.87"/><circle cx="115.8" cy="275.4" r="0.51" fill="#c01c28" opacity="0.65"/><circle cx="613.8" cy="255.3" r="0.67" fill="#c01c28" opacity="0.50"/><circle cx="605.8" cy="245.1" r="0.55" fill="#2a9a20" opacity="0.63"/><circle cx="272.9" cy="263.4" r="0.91" fill="#c01c28" opacity="0.53"/><circle cx="355.8" cy="219.4" r="0.48" fill="#c01c28" opacity="0.87"/><circle cx="307.5" cy="288.7" r="0.74" fill="#c01c28" opacity="0.63"/><circle cx="477" cy="229.8" r="0.69" fill="#c01c28" opacity="0.77"/><circle cx="133.6" cy="225" r="0.80" fill="#c01c28" opacity="0.75"/><circle cx="619.6" cy="218.9" r="0.53" fill="#c01c28" opacity="0.40"/><circle cx="406.9" cy="283.3" r="0.53" fill="#c01c28" opacity="0.73"/><circle cx="384.8" cy="229.4" r="0.63" fill="#c01c28" opacity="0.38"/><circle cx="126.8" cy="275" r="0.62" fill="#c01c28" opacity="0.68"/><circle cx="333.1" cy="284.8" r="0.91" fill="#c01c28" opacity="0.51"/><circle cx="551.7" cy="218.8" r="0.66" fill="#2a9a20" opacity="0.58"/><circle cx="130.2" cy="265.3" r="0.83" fill="#c01c28" opacity="0.75"/><circle cx="589.3" cy="234.8" r="0.88" fill="#c01c28" opacity="0.71"/><circle cx="529.6" cy="267.1" r="0.62" fill="#c01c28" opacity="0.75"/><circle cx="458.6" cy="261.7" r="0.85" fill="#c01c28" opacity="0.44"/><circle cx="58.7" cy="277.4" r="0.84" fill="#c01c28" opacity="0.81"/><circle cx="359.3" cy="249.6" r="0.51" fill="#2a9a20" opacity="0.46"/><circle cx="538" cy="228.2" r="0.86" fill="#c01c28" opacity="0.71"/><circle cx="421" cy="227.4" r="0.59" fill="#c01c28" opacity="0.36"/><circle cx="385.3" cy="273.2" r="0.70" fill="#c01c28" opacity="0.59"/><circle cx="472" cy="240.2" r="0.75" fill="#c01c28" opacity="0.77"/><circle cx="444.3" cy="212.5" r="0.58" fill="#c01c28" opacity="0.81"/><circle cx="90" cy="208.3" r="0.83" fill="#c01c28" opacity="0.41"/><circle cx="304.8" cy="278.5" r="0.69" fill="#c01c28" opacity="0.64"/><circle cx="505.7" cy="275.3" r="0.76" fill="#c01c28" opacity="0.81"/><circle cx="461.1" cy="282.7" r="0.76" fill="#2a9a20" opacity="0.36"/><circle cx="615.1" cy="224.9" r="0.48" fill="#c01c28" opacity="0.54"/><circle cx="265.9" cy="214.9" r="0.56" fill="#c01c28" opacity="0.35"/><circle cx="226.9" cy="271.9" r="0.64" fill="#2a9a20" opacity="0.44"/><circle cx="561.6" cy="268.3" r="0.56" fill="#c01c28" opacity="0.57"/><circle cx="288.1" cy="209.3" r="0.68" fill="#c01c28" opacity="0.77"/><circle cx="542.3" cy="267.8" r="0.83" fill="#2a9a20" opacity="0.83"/><circle cx="504.5" cy="244" r="0.78" fill="#2a9a20" opacity="0.71"/><circle cx="459.8" cy="246.5" r="0.55" fill="#c01c28" opacity="0.53"/><circle cx="441.9" cy="275.5" r="0.55" fill="#2a9a20" opacity="0.64"/><circle cx="263.8" cy="215.4" r="0.75" fill="#c01c28" opacity="0.55"/><circle cx="220.2" cy="207.6" r="0.52" fill="#c01c28" opacity="0.58"/><circle cx="61.4" cy="255.9" r="0.93" fill="#c01c28" opacity="0.81"/><circle cx="578.5" cy="214.1" r="0.53" fill="#c01c28" opacity="0.35"/><circle cx="396.8" cy="274.4" r="0.69" fill="#c01c28" opacity="0.79"/><circle cx="575.2" cy="261.1" r="0.72" fill="#c01c28" opacity="0.44"/><circle cx="305.9" cy="280.2" r="0.56" fill="#c01c28" opacity="0.51"/><circle cx="97.9" cy="254.8" r="0.56" fill="#c01c28" opacity="0.72"/><circle cx="111.1" cy="272" r="0.65" fill="#2a9a20" opacity="0.53"/><circle cx="496.4" cy="234.5" r="0.79" fill="#c01c28" opacity="0.42"/><circle cx="104.5" cy="264" r="0.91" fill="#c01c28" opacity="0.70"/><circle cx="346.9" cy="248.8" r="0.67" fill="#c01c28" opacity="0.43"/><circle cx="311.1" cy="213.3" r="0.79" fill="#c01c28" opacity="0.48"/><circle cx="109.1" cy="233.9" r="0.92" fill="#c01c28" opacity="0.51"/><circle cx="252.7" cy="291.1" r="0.49" fill="#c01c28" opacity="0.54"/><circle cx="441.9" cy="248.1" r="0.50" fill="#c01c28" opacity="0.82"/><circle cx="444.3" cy="247.3" r="0.89" fill="#c01c28" opacity="0.38"/><circle cx="218.8" cy="230.5" r="0.86" fill="#c01c28" opacity="0.63"/><circle cx="343.4" cy="282.3" r="0.73" fill="#c01c28" opacity="0.60"/><circle cx="404.3" cy="243.1" r="0.66" fill="#c01c28" opacity="0.42"/><circle cx="552.8" cy="234.2" r="0.63" fill="#c01c28" opacity="0.68"/><circle cx="156.7" cy="246.7" r="0.82" fill="#c01c28" opacity="0.37"/><circle cx="483.3" cy="287.6" r="0.48" fill="#c01c28" opacity="0.39"/><circle cx="218.2" cy="265.4" r="0.47" fill="#c01c28" opacity="0.60"/><circle cx="245" cy="268.7" r="0.71" fill="#2a9a20" opacity="0.82"/><circle cx="406.7" cy="282.4" r="0.54" fill="#c01c28" opacity="0.61"/><circle cx="409.9" cy="216.9" r="0.89" fill="#c01c28" opacity="0.55"/><circle cx="588.8" cy="290.7" r="0.65" fill="#2a9a20" opacity="0.82"/><circle cx="131.3" cy="273.5" r="0.81" fill="#c01c28" opacity="0.60"/><circle cx="155.6" cy="243.6" r="0.92" fill="#c01c28" opacity="0.57"/><circle cx="406.7" cy="245.9" r="0.76" fill="#c01c28" opacity="0.60"/><circle cx="78" cy="279.8" r="0.78" fill="#c01c28" opacity="0.48"/><circle cx="385.1" cy="251.8" r="0.90" fill="#c01c28" opacity="0.78"/><circle cx="248.7" cy="261.4" r="0.53" fill="#c01c28" opacity="0.86"/><circle cx="339.2" cy="231.3" r="0.71" fill="#c01c28" opacity="0.38"/><circle cx="614.8" cy="277.1" r="0.56" fill="#c01c28" opacity="0.60"/><circle cx="126.7" cy="224.1" r="0.94" fill="#c01c28" opacity="0.52"/><circle cx="94.8" cy="216.8" r="0.95" fill="#2a9a20" opacity="0.76"/><circle cx="528.5" cy="276.7" r="0.58" fill="#c01c28" opacity="0.44"/><circle cx="94.8" cy="222.6" r="0.81" fill="#c01c28" opacity="0.62"/><circle cx="229.6" cy="282.6" r="0.88" fill="#c01c28" opacity="0.75"/><circle cx="571.3" cy="256.6" r="0.64" fill="#c01c28" opacity="0.67"/><circle cx="78.5" cy="230.1" r="0.68" fill="#c01c28" opacity="0.42"/><circle cx="197.2" cy="239.8" r="0.93" fill="#2a9a20" opacity="0.62"/><circle cx="477.1" cy="259.7" r="0.61" fill="#c01c28" opacity="0.57"/><circle cx="415.1" cy="283.1" r="0.85" fill="#c01c28" opacity="0.51"/><circle cx="63" cy="259" r="0.56" fill="#c01c28" opacity="0.35"/><circle cx="186.6" cy="225.3" r="0.78" fill="#c01c28" opacity="0.67"/><circle cx="469.3" cy="225.4" r="0.91" fill="#c01c28" opacity="0.42"/><circle cx="454.9" cy="272.2" r="0.69" fill="#c01c28" opacity="0.83"/><circle cx="446.9" cy="214" r="0.54" fill="#c01c28" opacity="0.61"/><circle cx="111.6" cy="273" r="0.62" fill="#c01c28" opacity="0.61"/><circle cx="530.2" cy="233.9" r="0.73" fill="#c01c28" opacity="0.68"/><circle cx="233.8" cy="231.8" r="0.69" fill="#c01c28" opacity="0.68"/><circle cx="133.3" cy="246.7" r="0.73" fill="#c01c28" opacity="0.46"/><circle cx="581" cy="208.9" r="0.70" fill="#c01c28" opacity="0.51"/><circle cx="210" cy="221.4" r="0.65" fill="#c01c28" opacity="0.85"/><circle cx="256" cy="268.9" r="0.76" fill="#c01c28" opacity="0.36"/><circle cx="216.3" cy="286.7" r="0.67" fill="#c01c28" opacity="0.49"/><circle cx="331.1" cy="220.3" r="0.78" fill="#c01c28" opacity="0.75"/><circle cx="360.6" cy="275.6" r="0.93" fill="#c01c28" opacity="0.69"/><circle cx="342.4" cy="265.9" r="0.62" fill="#c01c28" opacity="0.73"/><circle cx="405.1" cy="261.7" r="0.79" fill="#c01c28" opacity="0.86"/><circle cx="457.4" cy="269.7" r="0.57" fill="#c01c28" opacity="0.69"/><circle cx="92.3" cy="274.1" r="0.56" fill="#c01c28" opacity="0.62"/><circle cx="464.6" cy="275.1" r="0.68" fill="#c01c28" opacity="0.87"/><circle cx="376.9" cy="295.2" r="0.61" fill="#2a9a20" opacity="0.74"/><circle cx="105.5" cy="276.2" r="0.78" fill="#c01c28" opacity="0.65"/><circle cx="542.2" cy="220" r="0.69" fill="#c01c28" opacity="0.69"/><circle cx="597.6" cy="278.5" r="0.86" fill="#c01c28" opacity="0.39"/><circle cx="572.2" cy="291.2" r="0.83" fill="#c01c28" opacity="0.53"/><circle cx="357.3" cy="266.4" r="0.77" fill="#c01c28" opacity="0.83"/><circle cx="604.4" cy="250.9" r="0.70" fill="#c01c28" opacity="0.71"/><circle cx="85.6" cy="292.4" r="0.61" fill="#c01c28" opacity="0.62"/><circle cx="165.2" cy="289.7" r="0.59" fill="#c01c28" opacity="0.51"/><circle cx="193.9" cy="266.4" r="0.73" fill="#c01c28" opacity="0.84"/><circle cx="243" cy="230.1" r="0.63" fill="#c01c28" opacity="0.35"/><circle cx="141.8" cy="235" r="0.83" fill="#c01c28" opacity="0.87"/><circle cx="198.6" cy="233.1" r="0.76" fill="#c01c28" opacity="0.61"/><circle cx="352.9" cy="230.9" r="0.52" fill="#c01c28" opacity="0.78"/><circle cx="305.3" cy="275.2" r="0.72" fill="#c01c28" opacity="0.83"/><circle cx="590.8" cy="210.9" r="0.90" fill="#c01c28" opacity="0.58"/><circle cx="204.1" cy="295" r="0.81" fill="#c01c28" opacity="0.76"/><circle cx="61.6" cy="234.3" r="0.68" fill="#2a9a20" opacity="0.85"/><circle cx="142.1" cy="294.9" r="0.73" fill="#c01c28" opacity="0.52"/><circle cx="298.2" cy="253.3" r="0.68" fill="#2a9a20" opacity="0.52"/><circle cx="325.6" cy="234.4" r="0.84" fill="#c01c28" opacity="0.48"/><circle cx="116.6" cy="228.2" r="0.95" fill="#c01c28" opacity="0.69"/><circle cx="437.1" cy="266.8" r="0.71" fill="#c01c28" opacity="0.55"/><circle cx="74.6" cy="217.8" r="0.65" fill="#c01c28" opacity="0.36"/><circle cx="247.9" cy="227.8" r="0.61" fill="#c01c28" opacity="0.62"/><circle cx="537.9" cy="250" r="0.48" fill="#2a9a20" opacity="0.40"/><circle cx="383.5" cy="232.9" r="0.81" fill="#2a9a20" opacity="0.38"/><circle cx="585.2" cy="266.1" r="0.48" fill="#2a9a20" opacity="0.58"/><circle cx="392.1" cy="225.6" r="0.57" fill="#c01c28" opacity="0.39"/><circle cx="160.1" cy="246.7" r="0.90" fill="#c01c28" opacity="0.85"/><circle cx="499.4" cy="218.9" r="0.92" fill="#c01c28" opacity="0.83"/><circle cx="556.8" cy="233.5" r="0.94" fill="#2a9a20" opacity="0.53"/><circle cx="529.3" cy="290.2" r="0.81" fill="#c01c28" opacity="0.39"/><circle cx="427.1" cy="287.9" r="0.79" fill="#c01c28" opacity="0.37"/><circle cx="252.3" cy="222.2" r="0.56" fill="#c01c28" opacity="0.63"/><circle cx="208.3" cy="243.7" r="0.92" fill="#c01c28" opacity="0.68"/><circle cx="583.1" cy="209.8" r="0.89" fill="#c01c28" opacity="0.40"/><circle cx="474.3" cy="274" r="0.76" fill="#c01c28" opacity="0.61"/><circle cx="299" cy="224.3" r="0.56" fill="#c01c28" opacity="0.41"/><circle cx="594" cy="291.6" r="0.62" fill="#c01c28" opacity="0.58"/><circle cx="497.9" cy="250.8" r="0.54" fill="#2a9a20" opacity="0.84"/><circle cx="84.2" cy="247.9" r="0.56" fill="#c01c28" opacity="0.70"/><circle cx="225.7" cy="233.9" r="0.75" fill="#c01c28" opacity="0.63"/><circle cx="441.2" cy="249.1" r="0.92" fill="#c01c28" opacity="0.59"/><circle cx="581.9" cy="262.3" r="0.74" fill="#c01c28" opacity="0.78"/><circle cx="166.9" cy="244.1" r="0.53" fill="#c01c28" opacity="0.36"/><circle cx="243.1" cy="229.7" r="0.46" fill="#c01c28" opacity="0.36"/><circle cx="259.5" cy="245.8" r="0.79" fill="#c01c28" opacity="0.85"/><circle cx="181.4" cy="295" r="0.54" fill="#c01c28" opacity="0.67"/><circle cx="219.8" cy="286.1" r="0.75" fill="#c01c28" opacity="0.74"/><circle cx="526.6" cy="232.6" r="0.76" fill="#c01c28" opacity="0.76"/><circle cx="207.3" cy="236.4" r="0.94" fill="#c01c28" opacity="0.71"/><circle cx="374.4" cy="265.4" r="0.58" fill="#c01c28" opacity="0.39"/><circle cx="385.7" cy="260.3" r="0.94" fill="#2a9a20" opacity="0.69"/><circle cx="613.6" cy="251.2" r="0.66" fill="#c01c28" opacity="0.61"/></g>
<g clip-path="url(#imc)"><circle cx="61.1" cy="211.7" r="3.4" fill="url(#gG)"/><circle cx="102.6" cy="214.6" r="2.7" fill="url(#gl)"/><circle cx="117.7" cy="211.7" r="2.4" fill="url(#gy)"/><circle cx="142" cy="213.1" r="2.4" fill="url(#gg)"/><circle cx="167.7" cy="211.7" r="2.1" fill="url(#gy)"/><circle cx="193" cy="213.7" r="2.1" fill="url(#go)"/><circle cx="226.6" cy="216" r="1.9" fill="url(#go)"/><circle cx="95.3" cy="219" r="2.1" fill="url(#gr)"/><circle cx="70.4" cy="221" r="1.5" fill="url(#gr)"/><circle cx="64.6" cy="226.9" r="1.8" fill="url(#gk)"/><circle cx="69" cy="240.9" r="2.9" fill="url(#gl)"/><circle cx="92.3" cy="238.8" r="2.4" fill="url(#gy)"/><circle cx="104" cy="244.7" r="2.4" fill="url(#gl)"/><circle cx="116.6" cy="239.4" r="2.6" fill="url(#gg)"/><circle cx="150.7" cy="240.9" r="2.2" fill="url(#gy)"/><circle cx="167.4" cy="242.9" r="2.4" fill="url(#gg)"/><circle cx="170.6" cy="235" r="1.9" fill="url(#gk)"/><circle cx="201.8" cy="236.5" r="2.2" fill="url(#gd)"/><circle cx="222.3" cy="242.9" r="2.1" fill="url(#gr)"/><circle cx="249.4" cy="216.3" r="2.1" fill="url(#gr)"/><circle cx="239.2" cy="249.6" r="1.7" fill="url(#gr)"/><circle cx="276.5" cy="216.9" r="2.1" fill="url(#gr)"/><circle cx="300.4" cy="213.7" r="2.1" fill="url(#gr)"/><circle cx="326.7" cy="216" r="2.1" fill="url(#gr)"/><circle cx="350.4" cy="215.2" r="2.3" fill="url(#gr)"/><circle cx="376.6" cy="213.1" r="2" fill="url(#gr)"/><circle cx="401.2" cy="210.2" r="2.1" fill="url(#gr)"/><circle cx="273.6" cy="230" r="2.3" fill="url(#gr)"/><circle cx="311.5" cy="232.1" r="1.7" fill="url(#gr)"/><circle cx="271.2" cy="241.7" r="2.1" fill="url(#gr)"/><circle cx="261" cy="234.5" r="1.4" fill="url(#gy)"/><circle cx="321.8" cy="243.2" r="1.7" fill="url(#gr)"/><circle cx="359.7" cy="228.3" r="1.7" fill="url(#go)"/><circle cx="372" cy="239.4" r="2.1" fill="url(#gr)"/><circle cx="410.2" cy="223.9" r="1.6" fill="url(#gr)"/><circle cx="413.7" cy="232.1" r="1.5" fill="url(#gr)"/><circle cx="423.4" cy="243.8" r="1.6" fill="url(#gr)"/><circle cx="318.2" cy="249.6" r="1.6" fill="url(#gr)"/><circle cx="426.9" cy="224.8" r="1.5" fill="url(#gr)"/><circle cx="451.9" cy="211.7" r="2" fill="url(#gr)"/><circle cx="479.6" cy="216.9" r="1.5" fill="url(#gr)"/><circle cx="507.4" cy="211.7" r="1.7" fill="url(#gr)"/><circle cx="461.5" cy="227.2" r="1.7" fill="url(#gr)"/><circle cx="509.4" cy="226.3" r="2.1" fill="url(#gr)"/><circle cx="530.7" cy="222.8" r="1.7" fill="url(#gr)"/><circle cx="560.8" cy="211.1" r="2" fill="url(#gr)"/><circle cx="581.8" cy="221.9" r="2.3" fill="url(#gr)"/><circle cx="611.6" cy="211.1" r="2.1" fill="url(#gr)"/><circle cx="475.3" cy="244.7" r="2.6" fill="url(#gd)"/><circle cx="527.2" cy="246.7" r="2.3" fill="url(#gr)"/><circle cx="615.4" cy="223.4" r="1.5" fill="url(#gr)"/><circle cx="489.9" cy="237.1" r="1.3" fill="url(#gr)"/><circle cx="551.2" cy="233.6" r="1.3" fill="url(#gr)"/><circle cx="80" cy="262.8" r="4.1" fill="url(#gG)"/><circle cx="74.2" cy="273" r="3.8" fill="url(#gg)"/><circle cx="83" cy="271.5" r="3.8" fill="url(#gl)"/><circle cx="79.2" cy="275.3" r="2.6" fill="url(#gR)"/><circle cx="80.7" cy="280.3" r="2.6" fill="url(#gg)"/><circle cx="57.9" cy="262.8" r="1.9" fill="url(#gr)"/><circle cx="115.7" cy="263.4" r="2.1" fill="url(#gr)"/><circle cx="133.2" cy="262.8" r="4.1" fill="url(#gG)"/><circle cx="129.4" cy="273.6" r="3.5" fill="url(#gl)"/><circle cx="136.1" cy="271.5" r="3.8" fill="url(#gy)"/><circle cx="134" cy="275.3" r="2.6" fill="url(#gR)"/><circle cx="133.8" cy="285.3" r="3.8" fill="url(#gg)"/><circle cx="187.2" cy="263.4" r="3.8" fill="url(#gg)"/><circle cx="177.6" cy="273" r="3.8" fill="url(#gg)"/><circle cx="185.8" cy="273.9" r="2.9" fill="url(#gR)"/><circle cx="191.6" cy="274.5" r="3.5" fill="url(#gl)"/><circle cx="187.8" cy="285.3" r="3.2" fill="url(#gg)"/><circle cx="165.9" cy="268.6" r="2.6" fill="url(#gd)"/><circle cx="231" cy="269.5" r="2.6" fill="url(#gr)"/><circle cx="242.7" cy="271.5" r="4.4" fill="url(#gG)"/><circle cx="242.5" cy="277" r="2.4" fill="url(#go)"/><circle cx="233.4" cy="286.1" r="3.2" fill="url(#gg)"/><circle cx="241.3" cy="285.5" r="3" fill="url(#gy)"/><circle cx="285.8" cy="270.9" r="2.4" fill="url(#gr)"/><circle cx="294.6" cy="269.5" r="4.7" fill="url(#gG)"/><circle cx="285.3" cy="285.5" r="3.2" fill="url(#gg)"/><circle cx="292.6" cy="283.8" r="3.2" fill="url(#go)"/><circle cx="318.2" cy="286.1" r="3.2" fill="url(#gg)"/><circle cx="334.9" cy="268" r="2.4" fill="url(#gr)"/><circle cx="344.5" cy="266.6" r="3.8" fill="url(#gg)"/><circle cx="346.6" cy="269.5" r="3.8" fill="url(#gg)"/><circle cx="336.4" cy="282.6" r="2.4" fill="url(#gy)"/><circle cx="347.4" cy="280.9" r="2.2" fill="url(#gr)"/><circle cx="344.5" cy="289.6" r="2.6" fill="url(#gl)"/><circle cx="386.9" cy="268.6" r="2.6" fill="url(#gr)"/><circle cx="400" cy="263.6" r="3.8" fill="url(#gg)"/><circle cx="399.1" cy="269.2" r="2.9" fill="url(#go)"/><circle cx="398.5" cy="284.7" r="3" fill="url(#go)"/><circle cx="436.3" cy="264.8" r="2.4" fill="url(#gr)"/><circle cx="257.5" cy="293.4" r="2.1" fill="url(#gd)"/><circle cx="453.4" cy="261.3" r="3.5" fill="url(#gl)"/><circle cx="451" cy="267.7" r="2.6" fill="url(#gp)"/><circle cx="435.3" cy="279.4" r="1.8" fill="url(#gr)"/><circle cx="452.8" cy="277.4" r="1.9" fill="url(#gr)"/><circle cx="448.4" cy="285.5" r="2.2" fill="url(#gr)"/><circle cx="484" cy="265.7" r="1.9" fill="url(#gr)"/><circle cx="499.2" cy="264.8" r="3.5" fill="url(#gg)"/><circle cx="502.4" cy="268" r="2.4" fill="url(#gr)"/><circle cx="482" cy="277.4" r="1.9" fill="url(#gp)"/><circle cx="501.5" cy="277.4" r="2.4" fill="url(#gr)"/><circle cx="500.9" cy="282.6" r="2" fill="url(#gd)"/><circle cx="540.9" cy="264.8" r="2.4" fill="url(#gr)"/><circle cx="548.2" cy="267.2" r="2.9" fill="url(#gl)"/><circle cx="553.5" cy="267.2" r="2.4" fill="url(#gr)"/><circle cx="530.7" cy="278.2" r="2.2" fill="url(#gp)"/><circle cx="546.2" cy="278.2" r="1.9" fill="url(#gr)"/><circle cx="550.6" cy="277.4" r="2.2" fill="url(#gr)"/><circle cx="592.9" cy="262.8" r="2.4" fill="url(#gr)"/><circle cx="601.7" cy="268.6" r="2.2" fill="url(#gr)"/><circle cx="605.2" cy="267.2" r="2.2" fill="url(#gr)"/><circle cx="597" cy="277.4" r="2.2" fill="url(#gr)"/><circle cx="604.3" cy="278.8" r="2.2" fill="url(#gr)"/><circle cx="581.2" cy="284.1" r="1.7" fill="url(#gg)"/><circle cx="68.4" cy="308" r="2.9" fill="url(#gy)"/><circle cx="79.2" cy="313.3" r="3.2" fill="url(#gl)"/><circle cx="91.8" cy="327.6" r="3.8" fill="url(#gl)"/><circle cx="96.1" cy="331.4" r="3.2" fill="url(#gl)"/><circle cx="117.7" cy="308.6" r="3.5" fill="url(#gg)"/><circle cx="130.3" cy="312.4" r="3.2" fill="url(#gy)"/><circle cx="144" cy="325.5" r="3.5" fill="url(#gy)"/><circle cx="147.2" cy="332.8" r="3.5" fill="url(#gg)"/><circle cx="168.2" cy="308.6" r="3.5" fill="url(#gg)"/><circle cx="182" cy="312.4" r="3" fill="url(#gy)"/><circle cx="195.1" cy="324.7" r="3.5" fill="url(#gl)"/><circle cx="198.9" cy="329.9" r="3.5" fill="url(#gg)"/><circle cx="217.9" cy="308.6" r="2.6" fill="url(#go)"/><circle cx="230.4" cy="313.9" r="3.2" fill="url(#gl)"/><circle cx="244.3" cy="327" r="3.8" fill="url(#gg)"/><circle cx="248" cy="331.8" r="3.1" fill="url(#gl)"/><circle cx="246.4" cy="312.4" r="2.4" fill="url(#go)"/><circle cx="271.5" cy="308.9" r="2.9" fill="url(#go)"/><circle cx="284.4" cy="314.7" r="3.5" fill="url(#gy)"/><circle cx="264.8" cy="319.7" r="2.6" fill="url(#gk)"/><circle cx="296.9" cy="327.6" r="3.8" fill="url(#gl)"/><circle cx="302.8" cy="333.7" r="3" fill="url(#gy)"/><circle cx="323.2" cy="307.2" r="2.9" fill="url(#gy)"/><circle cx="336.4" cy="313.9" r="3.5" fill="url(#gl)"/><circle cx="320.3" cy="316.8" r="2.6" fill="url(#gk)"/><circle cx="348.9" cy="325" r="3.2" fill="url(#gy)"/><circle cx="354.5" cy="333.7" r="2.6" fill="url(#gy)"/><circle cx="374.9" cy="310.1" r="3.2" fill="url(#gy)"/><circle cx="388.3" cy="314.7" r="3" fill="url(#gl)"/><circle cx="398.5" cy="327" r="3.5" fill="url(#gl)"/><circle cx="405" cy="334.3" r="2.6" fill="url(#go)"/><circle cx="428.3" cy="305.1" r="2.6" fill="url(#go)"/><circle cx="438.6" cy="313.9" r="3" fill="url(#gy)"/><circle cx="452.8" cy="324.1" r="3.5" fill="url(#gl)"/><circle cx="454.8" cy="335.2" r="3.2" fill="url(#gy)"/><circle cx="476.7" cy="306.6" r="3" fill="url(#go)"/><circle cx="488.4" cy="314.7" r="3.2" fill="url(#gy)"/><circle cx="504.5" cy="324.7" r="3.2" fill="url(#go)"/><circle cx="504.5" cy="336.6" r="2.6" fill="url(#go)"/><circle cx="530.7" cy="308.6" r="2.6" fill="url(#go)"/><circle cx="538.9" cy="318.2" r="3.5" fill="url(#gl)"/><circle cx="554.1" cy="323.2" r="3.2" fill="url(#gy)"/><circle cx="555.5" cy="335.8" r="2.9" fill="url(#gy)"/><circle cx="581.2" cy="309.5" r="2.6" fill="url(#go)"/><circle cx="587.7" cy="322" r="3.5" fill="url(#gl)"/><circle cx="604.3" cy="323.5" r="3" fill="url(#go)"/><circle cx="606.1" cy="336.6" r="2.6" fill="url(#go)"/><circle cx="479.6" cy="300.2" r="2.9" fill="url(#gk)"/></g>
<rect x="572.6" y="334.2" width="30.2" height="4" fill="#fff"/>
<text x="24" y="233.6" font-size="12.5" fill="#111">GA</text>
<text x="24" y="278.6" font-size="12.5" fill="#111">GP</text>
<text x="24" y="325.0" font-size="12.5" fill="#111">GR</text>
<text x="2.4" y="355.2" font-size="12.5" fill="#111">Time [min]</text>
<text x="82.6" y="355.2" font-size="12.5" fill="#111" text-anchor="middle">0</text>
<text x="134.0" y="355.2" font-size="12.5" fill="#111" text-anchor="middle">2</text>
<text x="185.39999999999998" y="355.2" font-size="12.5" fill="#111" text-anchor="middle">4</text>
<text x="236.79999999999998" y="355.2" font-size="12.5" fill="#111" text-anchor="middle">6</text>
<text x="288.2" y="355.2" font-size="12.5" fill="#111" text-anchor="middle">8</text>
<text x="339.6" y="355.2" font-size="12.5" fill="#111" text-anchor="middle">10</text>
<text x="391.0" y="355.2" font-size="12.5" fill="#111" text-anchor="middle">12</text>
<text x="442.4" y="355.2" font-size="12.5" fill="#111" text-anchor="middle">14</text>
<text x="493.79999999999995" y="355.2" font-size="12.5" fill="#111" text-anchor="middle">16</text>
<text x="545.1999999999999" y="355.2" font-size="12.5" fill="#111" text-anchor="middle">18</text>
<text x="596.6" y="355.2" font-size="12.5" fill="#111" text-anchor="middle">20</text>
</g>
<!-- panel_def -->
<g>
<path d="M47.2 408.3 V528.2 H212.8 M47.2 408.3 h-3.6 M47.2 468.25 h-3.6 M47.2 528.2 h-3.6 M47.2 528.2 v3.6 M88.6 528.2 v3.6 M130.0 528.2 v3.6 M171.39999999999998 528.2 v3.6" fill="none" stroke="#111" stroke-width="1.3" stroke-linecap="square"/>
<path d="M212.8 523.4000000000001 V528.8000000000001" stroke="#222" stroke-width="1.3"/>
<polyline points="47.3,464.4 48.2,458.2 49.1,441.4 50,425.5 50.9,411.8 51.8,409.5 52.7,407.5 53.6,412.6 54.5,408.5 55.4,409.3 56.3,409.4 57.2,415.5 58.1,415.6 59,417.7 59.9,417.3 60.8,426.2 61.7,428.9 62.6,437.3 63.5,436 64.4,440.4 65.3,437.9 66.2,439.4 67.1,431.7 68,430.4 68.9,428.8 69.8,444.2 70.7,445.4 71.6,442 72.5,441.4 73.4,451.5 74.3,458.3 75.2,469 76.1,470.2 77,476.6 77.9,475.7 78.8,480.9 79.7,481 80.6,484.3 81.5,479.2 82.4,481.4 83.3,476.7 84.2,477.6 85.1,473.7 86,475.4 86.9,472.7 87.8,474.6 88.7,473.6 89.6,491.9 90.5,508.9 91.4,527.7 92,527.2 92.9,526.9 93.8,527.1 94.7,526.8 95.6,526.3 96.5,527.8 97.4,527.3 98.3,527.8 99.2,526.7 100.1,527.5 101,526.8 101.9,526.8 102.8,527.1 103.7,527.5 104.6,527.5 105.5,527.3 106.4,527.5 107.3,527.8 108.2,526.5 109.1,527.6 110,527.6 110.9,526.8 111.8,527.5 112.7,527.3 113.6,526.9 114.5,527.4 115.4,527.4 116.3,527.4 117.2,527.6 118.1,527.1 119,527.8 119.9,527 120.8,527.8 121.7,526.6 122.6,526.9 123.5,527.7 124.4,527.5 125.3,526.9 126.2,527.3 127.1,527.8 128,527.6 128.9,527.2 129.8,527.2 130.7,527.6 131.6,527.1 132.5,527.6 133.4,526.5 134.3,527.5 135.2,527.9 136.1,527.8 137,527.6 137.9,527.9 138.8,527.7 139.7,527.9 140.6,527.5 141.5,527.6 142.4,527.8 143.3,526.7 144.2,527.8 145.1,527 146,527.7 146.9,527 147.8,527.8 148.7,527.6 149.6,527.7 150.5,527.3 151.4,527.8 152.3,526.6 153.2,526.5 154.1,527.5 155,527.7 155.9,527.6 156.8,526.9 157.7,526.7 158.6,527.8 159.5,527.1 160.4,527.6 161.3,527.3 162.2,527.1 163.1,527.3 164,527.7 164.9,527.7 165.8,527.4 166.7,527.3 167.6,527.2 168.5,527.9 169.4,527.1 170.3,527.2 171.2,527.7 172.1,526.8 173,527.8 173.9,527.5 174.8,526.1 175.7,527.5 176.6,527.4 177.5,527.5 178.4,527.8 179.3,527.7 180.2,527.4 181.1,527.5 182,527.5 182.9,527.9 183.8,526.8 184.7,527.3 185.6,527.6 186.5,527.8 187.4,527.1 188.3,526.9 189.2,527.5 190.1,526.6 191,527.4 191.9,526.4 192.8,527.8 193.7,527.4 194.6,527.3 195.5,526.9 196.4,527.6 197.3,527.8 198.2,527.2 199.1,527 200,527.3 200.9,527.9 201.8,526 202.7,527.2 203.6,527.8 204.5,527.9 205.4,527.5 206.3,527.5 207.2,526.7 208.1,527.5 209,527.4 209.9,527 210.8,527.6 211.7,526.9 212.6,526.9 212.8,527.9" fill="none" stroke="#b4eac2" stroke-width="1.3" stroke-linejoin="round"/>
<polyline points="47.3,416.4 48.2,425.7 49.1,426.2 50,422.1 50.9,415.6 51.8,415.5 52.7,413 53.6,414.6 54.5,412.3 55.4,415.8 56.3,414.4 57.2,420.3 58.1,419.3 59,425.1 59.9,426.4 60.8,433.2 61.7,439.4 62.6,453.9 63.5,454.2 64.4,456.9 65.3,451.3 66.2,452.6 67.1,451.3 68,460.1 68.9,463 69.8,469.8 70.7,472.7 71.6,477.7 72.5,473 73.4,475.5 74.3,470.2 75.2,472.9 76.1,474.9 77,485.3 77.9,487.3 78.8,495.3 79.7,494.4 80.6,502.8 81.5,507.1 82.4,506.8 83.3,503.1 84.2,510.3 85.1,512.8 86,524 86.7,528 87.6,527.9 88.5,527.3 89.4,527.6 90.3,527.2 91.2,527.8 92.1,527.6 93,527.7 93.9,527.7 94.8,527.9 95.7,527.7 96.6,527.6 97.5,527.8 98.4,527.8 99.3,527.5 100.2,527.6 101.1,527.4 102,527.6 102.9,527.9 103.8,527.4 104.7,527.3 105.6,527.6 106.5,527.2 107.4,527.6 108.3,527.3 109.2,527.2 110.1,527.7 111,527.9 111.9,527.1 112.8,527.2 113.7,527.8 114.6,527.5 115.5,527.7 116.4,527.6 117.3,527.6 118.2,527.8 119.1,527.7 120,527.6 120.9,527.3 121.8,527.3 122.7,527.8 123.6,527.3 124.5,527.7 125.4,527.5 126.3,527.4 127.2,527.7 128.1,527.8 129,527.8 129.9,527.4 130.8,527.9 131.7,527.5 132.6,527.6 133.5,527.7 134.4,527.6 135.3,527.6 136.2,527.9 137.1,527.6 138,527.8 138.9,527.5 139.8,527.4 140.7,527.6 141.6,527.5 142.5,527.8 143.4,527.7 144.3,527 145.2,527.7 146.1,527.8 147,527.6 147.9,527.2 148.8,527.7 149.7,527.7 150.6,527.2 151.5,527.5 152.4,527.4 153.3,527.4 154.2,527.7 155.1,527.1 156,527.5 156.9,527.5 157.8,527.2 158.7,527.1 159.6,527.4 160.5,527.5 161.4,527.8 162.3,527.4 163.2,527.4 164.1,527.6 165,527.5 165.9,527.4 166.8,527.7 167.7,527.6 168.6,527.6 169.5,527.4 170.4,527.7 171.3,527.7 172.2,527.4 173.1,527.7 174,527.4 174.9,527.7 175.8,527.5 176.7,527.8 177.6,527.8 178.5,527.8 179.4,526.5 180.3,527.9 181.2,527.7 182.1,527.7 183,527.8 183.9,527.4 184.8,527.5 185.7,527.7 186.6,527.4 187.5,527.3 188.4,527.5 189.3,527.9 190.2,526.8 191.1,527.9 192,527.4 192.9,527.9 193.8,527.7 194.7,527.6 195.6,527.4 196.5,527.8 197.4,527.3 198.3,527.6 199.2,527.9 200.1,527.3 201,527.7 201.9,527.6 202.8,527.6 203.7,527.7 204.6,527.9 205.5,527.6 206.4,527.8 207.3,527.5 208.2,527.5 209.1,527.8 210,527.3 210.9,527.6 211.8,527.9 212.7,527.9 212.8,527.9" fill="none" stroke="#88dea0" stroke-width="1.3" stroke-linejoin="round"/>
<polyline points="47.3,424.6 48.2,420.4 49.1,419.4 50,422.8 50.9,415 51.8,414.1 52.7,407.4 53.6,412.1 54.5,412.3 55.4,410.9 56.3,409.9 57.2,416.8 58.1,418.9 59,429.2 59.9,435.4 60.8,443.3 61.7,442.6 62.6,449.7 63.5,450.9 64.4,457.4 65.3,460.6 66.2,465.9 67.1,474 68,488.1 68.9,490.8 69.8,499.6 70.7,503.5 71.6,512.8 72.5,516.7 73.4,517.6 74.3,516.1 75.2,517.8 76.1,516.6 77,520.8 77.9,518 78.8,521.5 79.7,528 80.6,527.7 81.5,527.9 82.4,527.9 83.3,527.8 84.2,527.8 85.1,527.9 86,527.9 86.9,527.6 87.8,527.8 88.7,527.7 89.6,527.7 90.5,527.8 91.4,527.8 92.3,527.8 93.2,527.7 94.1,527.6 95,527.6 95.9,527.8 96.8,527.7 97.7,527.8 98.6,527.8 99.5,527.8 100.4,527.9 101.3,527.9 102.2,527.6 103.1,527.8 104,527.8 104.9,527.9 105.8,527.5 106.7,527.9 107.6,527.8 108.5,527.8 109.4,527.8 110.3,527.8 111.2,527.8 112.1,527.8 113,527.9 113.9,527.9 114.8,527.8 115.7,527.7 116.6,527.8 117.5,527.8 118.4,527.8 119.3,527.8 120.2,527.9 121.1,527.9 122,527.8 122.9,527.5 123.8,527.7 124.7,527.9 125.6,527.8 126.5,527.8 127.4,527.8 128.3,527.7 129.2,527.8 130.1,527.8 131,527.8 131.9,527.8 132.8,527.8 133.7,527.7 134.6,527.6 135.5,527.9 136.4,527.7 137.3,527.8 138.2,527.9 139.1,527.7 140,527.7 140.9,527.7 141.8,527.7 142.7,527.8 143.6,527.8 144.5,527.7 145.4,527.8 146.3,527.9 147.2,527.8 148.1,527.7 149,527.7 149.9,527.8 150.8,527.9 151.7,527.8 152.6,527.5 153.5,527.8 154.4,527.5 155.3,527.9 156.2,527.7 157.1,527.6 158,527.8 158.9,527.8 159.8,527.9 160.7,527.6 161.6,527.8 162.5,527.9 163.4,527.9 164.3,527.8 165.2,527.9 166.1,527.9 167,527.7 167.9,527.8 168.8,527.4 169.7,527.8 170.6,527.9 171.5,527.9 172.4,527.8 173.3,527.7 174.2,527.8 175.1,527.7 176,527.9 176.9,527.7 177.8,527.7 178.7,527.9 179.6,527.9 180.5,527.5 181.4,527.8 182.3,527.8 183.2,527.8 184.1,527.6 185,527.8 185.9,527.5 186.8,527.7 187.7,527.9 188.6,527.9 189.5,527.8 190.4,527.9 191.3,527.8 192.2,527.8 193.1,527.7 194,527.7 194.9,527.7 195.8,527.8 196.7,527.8 197.6,527.5 198.5,527.7 199.4,527.7 200.3,527.8 201.2,527.6 202.1,527.7 203,527.9 203.9,527.7 204.8,527.6 205.7,527.7 206.6,527.9 207.5,527.7 208.4,527.8 209.3,527.8 210.2,527.9 211.1,527.7 212,527.7 212.8,527.9" fill="none" stroke="#54ce7a" stroke-width="1.3" stroke-linejoin="round"/>
<polyline points="47.3,420.3 48.2,428.4 49.1,416.9 50,412.3 50.9,412 51.8,424.4 52.7,427.7 53.6,438.7 54.5,438 55.4,434.6 56.3,446.5 57.2,470.6 58.1,474.7 59,476.8 59.9,476.5 60.8,479.2 61.7,478.5 62.6,484.3 63.5,486.5 64.4,495.8 65.3,521.4 65.4,528 212.8,527.9" fill="none" stroke="#1fc04f" stroke-width="1.4" stroke-linejoin="round"/>
<text x="41.2" y="412.7" font-size="12.5" fill="#111" text-anchor="end">1.0</text>
<text x="41.2" y="472.65" font-size="12.5" fill="#111" text-anchor="end">0.5</text>
<text x="41.2" y="532.6" font-size="12.5" fill="#111" text-anchor="end">0.0</text>
<text x="46.1" y="545.2" font-size="12.5" fill="#111" text-anchor="middle">0</text>
<text x="87.5" y="545.2" font-size="12.5" fill="#111" text-anchor="middle">5</text>
<text x="128.9" y="545.2" font-size="12.5" fill="#111" text-anchor="middle">10</text>
<text x="170.29999999999998" y="545.2" font-size="12.5" fill="#111" text-anchor="middle">15</text>
<text x="211.70000000000002" y="545.2" font-size="12.5" fill="#111" text-anchor="middle">20</text>
<text x="121.8" y="561" font-size="12.7" fill="#111" text-anchor="middle">Runoff time [min]</text>
<text transform="translate(20.8 466.8) rotate(-90)" font-size="12.7" fill="#111" text-anchor="middle">Normalized SunTag Intensity</text>
<text x="117.5" y="404.8" font-size="12.5" fill="#1fd01f">GA</text>
<text x="0" y="385.4" font-size="16.5" fill="#111">d</text>
<path d="M268.8 401.4 V528.2 H443.8 M268.8 401.4 h-3.6 M268.8 464.8 h-3.6 M268.8 528.2 h-3.6 M268.8 528.2 v3.6 M312.55 528.2 v3.6 M356.3 528.2 v3.6 M400.05 528.2 v3.6 M443.8 528.2 v3.6" fill="none" stroke="#111" stroke-width="1.3" stroke-linecap="square"/>
<polyline points="269.7,407 271,414.7 272.3,414.8 273.6,424.6 274.9,413.7 276.2,416.5 277.5,405.2 278.8,410.9 280.1,407.5 281.4,417.9 282.7,411.1 284,416.4 285.3,405.6 286.6,410.2 287.9,404.2 289.2,410.1 290.5,407.7 291.8,416.3 293.1,405.5 294.4,406.4 295.7,403.6 297,412.6 298.3,411.1 299.6,417.4 300.9,407 302.2,411.9 303.5,404.9 304.8,411.6 306.1,406.4 307.4,415.8 308.7,415.1 310,425.4 311.3,418.1 312.6,428.3 313.9,423.5 315.2,428 316.5,421.1 317.8,426.3 319.1,419.4 320.4,423.9 321.7,412.8 323,419.2 324.3,417.3 325.6,424.1 326.9,419.4 328.2,427.2 329.5,421.9 330.8,428.7 332.1,426.6 333.4,431.7 334.7,430.5 336,440.2 337.3,436.5 338.6,445.2 339.9,439.6 341.2,449 342.5,442.3 343.8,448.1 345.1,442.3 346.4,442.6 347.7,438.4 349,445 350.3,438.8 351.6,450.6 352.9,448.3 354.2,453.9 355.5,449.3 356.8,455.9 358.1,448 359.4,456.3 360.7,447.7 362,451.8 363.3,442.7 364.6,450.3 365.9,442.9 367.2,449.1 368.5,443.9 369.8,462.7 371.1,468 372.4,474.2 373.7,467.2 375,475.1 376.3,467.1 377.6,467.9 378.9,457.3 380.2,465.5 381.5,462.4 382.8,473.4 384.1,470.7 385.4,483 386.7,479.4 388,490.7 389.3,483.7 390.6,485.6 391.9,481.9 393.2,483.2 394.5,480.5 395.8,487.9 397.1,487.6 398.4,495.3 399.7,490.3 401,492.8 402.3,487.6 403.6,492 404.9,488.5 406.2,499.1 407.5,494.7 408.8,505.7 410.1,501.1 411.4,509.9 412.7,504.4 414,515.5 415.3,507.6 416.6,514.2 417.9,510.6 419.2,519.5 420.5,511.6 421.8,518.9 423.1,512.8 424.4,518.7 425.7,513.8 427,522.9 428.3,518.7 429.6,524 430.9,518.8 432.2,525.6 433.5,520 434.8,529.1 436.1,520 437.4,527.5 438.7,524.1 440,530.4 441.3,522.5 442.6,530.7 443.9,521.9 443.9,526.5" fill="none" stroke="#fcc2c6" stroke-width="1.35" stroke-linejoin="round"/>
<polyline points="269.7,405.8 271,413.1 272.3,414.6 273.6,425.9 274.9,417.6 276.2,414.8 277.5,408.4 278.8,417 280.1,414.5 281.4,422.7 282.7,415.4 284,416.4 285.3,408.1 286.6,409.9 287.9,401.8 289.2,412.5 290.5,409.6 291.8,414.9 293.1,412.5 294.4,420.9 295.7,417.8 297,422.4 298.3,418.8 299.6,426.8 300.9,421.2 302.2,426.2 303.5,423.9 304.8,432.8 306.1,427.5 307.4,438.6 308.7,431.6 310,435 311.3,428.7 312.6,437.5 313.9,431.3 315.2,435.6 316.5,431.6 317.8,445.2 319.1,445.7 320.4,456.9 321.7,454.1 323,464.7 324.3,464.8 325.6,472.5 326.9,466.6 328.2,466.5 329.5,458.9 330.8,460.4 332.1,455.1 333.4,463.6 334.7,455.1 336,465.5 337.3,454.8 338.6,462.7 339.9,455.3 341.2,457.7 342.5,451.6 343.8,457.9 345.1,452.1 346.4,457.8 347.7,456 349,463.2 350.3,456.2 351.6,464.3 352.9,460.6 354.2,465.4 355.5,459.4 356.8,468.7 358.1,460.8 359.4,467.8 360.7,464 362,471.2 363.3,464.9 364.6,472.1 365.9,466.8 367.2,475.6 368.5,477.6 369.8,488.1 371.1,485.9 372.4,489.5 373.7,486.6 375,493.3 376.3,485.9 377.6,493.7 378.9,488.8 380.2,496.4 381.5,491 382.8,496.7 384.1,493 385.4,501.8 386.7,499.9 388,505.2 389.3,505.9 390.6,513.6 391.9,505.8 393.2,514.2 394.5,505 395.8,510.6 397.1,512.1 398.4,529.1 398.7,525.9 399.9,524.5 401.1,526.2 402.3,524.6 403.5,518.1 404.7,525.5 405.9,525.7 407.1,521.9 408.3,525.7 409.5,521.7 410.7,525 411.9,523.3 413.1,525.5 414.3,520.4 415.5,526.6 416.7,526.5 417.9,518.8 419.1,523.1 420.3,525.7 421.5,524.3 422.7,526.8 423.9,525 425.1,520.9 426.3,525.8 427.5,521.8 428.7,525 429.9,527 431.1,522.9 432.3,525.6 433.5,527.6 434.7,521.9 435.9,525.7 437.1,527 438.3,526.2 439.5,522.8 440.7,524.4 441.9,525.3 443.1,525.8 443.8,527.7" fill="none" stroke="#fb9aa0" stroke-width="1.35" stroke-linejoin="round"/>
<polyline points="269.7,412 271,423.2 272.3,420.7 273.6,430.4 274.9,418.3 276.2,417.8 277.5,409.3 278.8,422 280.1,420.3 281.4,425.9 282.7,418.5 284,417.5 285.3,406.7 286.6,409 287.9,409.3 289.2,421.9 290.5,424.1 291.8,425.2 293.1,416.6 294.4,424.6 295.7,413.3 297,423.9 298.3,422.4 299.6,429 300.9,426.7 302.2,437.2 303.5,439.5 304.8,455.3 306.1,456.4 307.4,467.9 308.7,465.7 310,468.2 311.3,455.7 312.6,457.9 313.9,447.8 315.2,454.5 316.5,451.5 317.8,456.2 319.1,452.2 320.4,460.7 321.7,455.5 323,463.2 324.3,458 325.6,472 326.9,466 328.2,476.6 329.5,462.9 330.8,465.2 332.1,453.8 333.4,461.3 334.7,456.4 336,466.1 337.3,459.3 338.6,469.2 339.9,460.9 341.2,468.4 342.5,466.7 343.8,476.3 345.1,472.2 346.4,485 347.7,482.4 349,475.3 350.3,519 350.7,525.9 351.9,520.9 353.1,519.3 354.3,521.4 355.5,526 356.7,524.7 357.9,524.3 359.1,524.4 360.3,526 361.5,522.6 362.7,525.8 363.9,521.6 365.1,521.9 366.3,525 367.5,524.7 368.7,524.7 369.9,525.9 371.1,520.6 372.3,526.3 373.5,524.5 374.7,522.5 375.9,522.5 377.1,525.2 378.3,527.1 379.5,525.2 380.7,527.7 381.9,526.3 383.1,526.7 384.3,525.7 385.5,514.5 386.7,519.5 387.9,522 389.1,526.9 390.3,525.2 391.5,520.5 392.7,527.8 393.9,524.9 395.1,527.4 396.3,519.9 397.5,521 398.7,522.4 399.9,526.9 401.1,525.5 402.3,525 403.5,526.8 404.7,523.9 405.9,524.8 407.1,522.1 408.3,523.8 409.5,527.2 410.7,523.8 411.9,524.3 413.1,525 414.3,526.6 415.5,520.9 416.7,525.5 417.9,527.2 419.1,519.1 420.3,526.2 421.5,518.4 422.7,518.5 423.9,526.6 425.1,527.2 426.3,526.3 427.5,524.1 428.7,519.4 429.9,521.3 431.1,522.3 432.3,527.7 433.5,527.1 434.7,525.1 435.9,525 437.1,527.1 438.3,526.3 439.5,524.5 440.7,524.2 441.9,526.4 443.1,526.3 443.8,522.9" fill="none" stroke="#f85c66" stroke-width="1.35" stroke-linejoin="round"/>
<polyline points="269.2,415.1 270.5,430.3 271.8,430.1 273.1,425.3 274.4,415.1 275.7,429.4 277,418.8 278.3,410.5 279.6,401.4 280.9,408.3 282.2,424.8 283.5,442.9 284.8,454.4 286.1,461.8 287.4,451.9 288.7,445.7 290,438 291.3,445.1 292.6,447.9 293.9,458.4 295.2,462.4 296.5,467.4 297.8,463.1 299.1,463.9 300.4,466.4 301.7,472.1 303,476.9 304.3,479.4 305.6,472.5 306.9,477.1 308.2,475.3 309.5,481.6 310.8,481.8 312.1,488.7 313.4,512.3 314.7,524.7 315.5,524.8 316.7,527.5 317.9,522.3 319.1,523.6 320.3,525.4 321.5,524.8 322.7,524.6 323.9,521.6 325.1,521.6 326.3,523.4 327.5,522 328.7,525.1 329.9,522.5 331.1,527.5 332.3,520.8 333.5,524.3 334.7,526.3 335.9,527.1 337.1,526.1 338.3,522.3 339.5,527.3 340.7,524.2 341.9,523.7 343.1,526.5 344.3,523.6 345.5,520.5 346.7,525.6 347.9,527.6 349.1,520.2 350.3,524.4 351.5,526.8 352.7,525.9 352.8,527.3 355.4,527.8 443.8,527.8" fill="none" stroke="#f4101c" stroke-width="1.5" stroke-linejoin="round"/>
<text x="262.8" y="405.79999999999995" font-size="12.5" fill="#111" text-anchor="end">1.0</text>
<text x="262.8" y="469.2" font-size="12.5" fill="#111" text-anchor="end">0.5</text>
<text x="262.8" y="532.6" font-size="12.5" fill="#111" text-anchor="end">0.0</text>
<text x="267.7" y="545.6" font-size="12.5" fill="#111" text-anchor="middle">0</text>
<text x="311.45" y="545.6" font-size="12.5" fill="#111" text-anchor="middle">5</text>
<text x="355.2" y="545.6" font-size="12.5" fill="#111" text-anchor="middle">10</text>
<text x="398.95" y="545.6" font-size="12.5" fill="#111" text-anchor="middle">15</text>
<text x="442.7" y="545.6" font-size="12.5" fill="#111" text-anchor="middle">20</text>
<text x="356.6" y="560.6" font-size="12.7" fill="#111" text-anchor="middle">Runoff time [min]</text>
<text transform="translate(241.7 462) rotate(-90)" font-size="12.7" fill="#111" text-anchor="middle">Normalized SunTag Intensity</text>
<text x="346" y="405" font-size="12.6" fill="#f4141e">GR</text>
<text x="208.8" y="385.4" font-size="16.5" fill="#111">e</text>
<polygon points="502.8,397.1 517,403.7 521.3,415.6 525.6,432.7 531.3,444.1 537,458.3 546.9,469.7 555.5,474 566.9,481.1 586.8,483.9 591.1,489.6 598.2,496.7 618.1,501 638,509.6 649.4,515.2 673.6,519.5 673.6,526.6 638,525.2 612.4,520.9 592.5,516.7 575.4,512.4 561.2,506.7 549.8,501 541.2,489.6 535.5,475.4 529.9,455.5 524.2,438.4 518.5,415.6 502.8,401.4" fill="#9a9a9a" fill-opacity="0.3"/>
<polyline points="502.8,398.5 515.6,401.4 519.9,409.9 524.2,424.2 528.4,438.4 532.7,449.8 537,466.9 541.2,475.4 546.9,483.9 554,488.2 561.2,492.5 572.6,496.7 586.8,498.2 591.1,503.9 598.2,509.6 612.4,512.4 626.6,513.8 638,519.5 649.4,520.9 660.8,522.4 673.6,523.8" fill="none" stroke="#a6a6a6" stroke-width="2.3" stroke-linejoin="round"/>
<polygon points="515.6,396.5 541.2,397.1 549.8,402.8 558.3,412.8 564,417 581.1,418.5 588.2,432.7 595.3,442.7 603.9,455.5 615.2,466.9 620.9,475.4 628.1,481.1 629.5,491.1 640.9,492.5 645.1,498.2 655.1,506.7 660.8,511 673.6,518.1 673.6,526.9 660.8,526.1 643.7,520.9 632.3,516.7 623.8,509.6 612.4,502.4 603.9,495.3 598.2,486.8 589.6,475.4 583.9,464 575.4,451.2 561.2,444.1 549.8,432.7 541.2,421.3 532.7,409.9 515.6,401.4" fill="#2f8fd8" fill-opacity="0.38"/>
<polyline points="515.6,398.5 527,402.8 541.2,408.5 546.9,415.6 555.5,427 564,432.7 572.6,438.4 581.1,442.7 586.8,452.6 592.5,461.2 598.2,469.7 603.9,476.8 612.4,485.4 620.9,492.5 626.6,496.7 629.5,505.3 638,508.1 645.1,512.4 655.1,518.1 663.6,520.9 673.6,523.8" fill="none" stroke="#1d6fb4" stroke-width="2.5" stroke-linejoin="round"/>
<polygon points="504.2,398 532.7,401.4 538.4,409.9 544.1,419.9 555.5,424.2 564,431.3 575.4,432.7 586.8,437 595.3,442.7 606.7,446.9 615.2,451.2 623.8,458.3 632.3,459.7 643.7,465.4 655.1,469.7 663.6,474 673.6,478.2 673.6,501 666.5,498.2 660.8,492.5 649.4,488.2 638,483.9 623.8,481.1 618.1,475.4 609.6,472.6 598.2,469.7 586.8,461.2 575.4,456.9 561.2,452.6 549.8,445.5 541.2,437 535.5,424.2 529.9,409.9 504.2,402" fill="#f03040" fill-opacity="0.38"/>
<polyline points="504.2,400 518.5,402.8 529.9,405.7 535.5,418.5 541.2,427 546.9,432.7 552.6,434.1 558.3,441.2 566.9,442.7 575.4,446.9 586.8,451.2 598.2,458.3 609.6,461.2 615.2,465.4 623.8,469.7 632.3,471.1 640.9,475.4 649.4,476.8 655.1,481.1 663.6,485.4 673.6,488.8" fill="none" stroke="#f0141e" stroke-width="2.7" stroke-linejoin="round"/>
<polygon points="502.8,396.3 518.5,400 527,407.1 532.7,418.5 537,441.2 542.7,458.3 549.8,472.6 558.3,481.1 575.4,492.5 592.5,495.3 618.1,496.7 649.4,499.6 673.6,503.9 673.6,526.6 649.4,526.1 632.3,525.2 609.6,524.4 589.6,523.8 572.6,519.5 552.6,512.4 548.4,503.9 542.7,489.6 535.5,472.6 531.3,446.9 525.6,424.2 518.5,409.9 511.3,407.1 502.8,401.4" fill="#30c850" fill-opacity="0.36"/>
<polyline points="502.8,398.5 511.3,402.8 519.9,405.7 527,412.8 532.1,424.2 534.1,446.9 537,466.9 542.7,478.2 549.8,489.6 554,495.3 564,501 575.4,506.7 589.6,509.6 609.6,511 632.3,511.8 649.4,513 663.6,514.7 673.6,516.1" fill="none" stroke="#1fc845" stroke-width="2.7" stroke-linejoin="round"/>
<path d="M494.6 463.3 H674" stroke="#d8572a" stroke-width="1" stroke-dasharray="3.2 1.4" fill="none"/>
<path d="M494.6 397.0 V527.6 H673 M494.6 527.6 h-3.6 M494.6 501.5 h-3.6 M494.6 475.4 h-3.6 M494.6 449.2 h-3.6 M494.6 423.1 h-3.6 M494.6 397 h-3.6 M494.6 527.6 v3.6 M539.2 527.6 v3.6 M583.8 527.6 v3.6 M628.4 527.6 v3.6 M673 527.6 v3.6" fill="none" stroke="#333" stroke-width="1.3" stroke-linecap="square"/>
<text x="491.20000000000005" y="532.1" font-size="12.5" fill="#111" text-anchor="end">0</text>
<text x="491.20000000000005" y="505.98" font-size="12.5" fill="#111" text-anchor="end">20</text>
<text x="491.20000000000005" y="479.86" font-size="12.5" fill="#111" text-anchor="end">40</text>
<text x="491.20000000000005" y="453.74" font-size="12.5" fill="#111" text-anchor="end">60</text>
<text x="491.20000000000005" y="427.62" font-size="12.5" fill="#111" text-anchor="end">80</text>
<text x="491.20000000000005" y="401.5" font-size="12.5" fill="#111" text-anchor="end">100</text>
<text x="494.40000000000003" y="543" font-size="12.5" fill="#111" text-anchor="middle">0</text>
<text x="539.0" y="543" font-size="12.5" fill="#111" text-anchor="middle">5</text>
<text x="583.6" y="543" font-size="12.5" fill="#111" text-anchor="middle">10</text>
<text x="628.2" y="543" font-size="12.5" fill="#111" text-anchor="middle">15</text>
<text x="672.8" y="543" font-size="12.5" fill="#111" text-anchor="middle">20</text>
<text x="584.6" y="560.2" font-size="12.7" fill="#111" text-anchor="middle">Runoff time [min]</text>
<text transform="translate(468.2 460.4) rotate(-90)" font-size="12.65" fill="#111" text-anchor="middle">Survival Probability [%]</text>
<path d="M623.4 395.7 H646.2" stroke="#a6a6a6" stroke-width="2.1"/>
<text x="650.6" y="400.2" font-size="12.5" fill="#111">NLuc</text>
<path d="M623.4 409.6 H646.2" stroke="#1d6fb4" stroke-width="2.1"/>
<text x="650.6" y="414.1" font-size="12.5" fill="#111">GP</text>
<path d="M623.4 423.9 H646.2" stroke="#f0141e" stroke-width="2.1"/>
<text x="650.6" y="428.4" font-size="12.5" fill="#111">GR</text>
<path d="M623.4 437.9 H646.2" stroke="#1fc845" stroke-width="2.1"/>
<text x="650.6" y="442.4" font-size="12.5" fill="#111">GA</text>
<text x="659.4" y="462.4" font-size="12.5" fill="#111">50%</text>
<text x="437.6" y="385.1" font-size="16.5" fill="#111">f</text>
</g>
<!-- panel_g -->
<g>
<text x="0" y="597.4" font-size="16.5" fill="#111">g</text>
<text x="44" y="619" font-size="11" fill="#111">AUG</text>
<text x="204.2" y="619" font-size="11" fill="#111">UAG</text>
<path d="M68.6 615 H143.7" stroke="#1cc41c" stroke-width="1.5"/>
<path d="M143.7 615 H161.2" stroke="#f5a36c" stroke-width="1.5"/>
<path d="M161.2 615 H204" stroke="#4a4a4a" stroke-width="1.5"/>
<text x="100" y="606" font-family='"Liberation Serif", serif' font-size="14" fill="#1e9a1e"><tspan font-style="italic">L</tspan><tspan dy="2.6" font-size="8.5">S</tspan></text>
<text x="146.6" y="606" font-family='"Liberation Serif", serif' font-size="14" fill="#f5a36c"><tspan font-style="italic">L</tspan><tspan dy="2.6" font-size="8.5">I</tspan></text>
<text x="175.8" y="606" font-family='"Liberation Serif", serif' font-size="14" fill="#4a4a4a"><tspan font-style="italic">L</tspan><tspan dy="2.6" font-size="8.5">A</tspan></text>
<text x="44" y="646.4" font-family='"Liberation Serif", serif' font-size="14" fill="#1e9a1e"><tspan font-style="italic">L</tspan><tspan dy="2.6" font-size="8.5">S</tspan></text>
<text x="65" y="646" font-size="12.7" fill="#111">SunTag sequence length</text>
<text x="44" y="665.2" font-family='"Liberation Serif", serif' font-size="14" fill="#f5a36c"><tspan font-style="italic">L</tspan><tspan dy="2.6" font-size="8.5">I</tspan></text>
<text x="64" y="665" font-size="12.7" fill="#111">insert sequence length (repeats or NLuc)</text>
<text x="44" y="683.6" font-family='"Liberation Serif", serif' font-size="14" fill="#4a4a4a"><tspan font-style="italic">L</tspan><tspan dy="2.6" font-size="8.5">A</tspan></text>
<text x="64.6" y="683.2" font-size="12.7" fill="#111">AID sequence length</text>
<text x="43.6" y="702.4" font-family='"Liberation Serif", serif' font-size="12" fill="#555"><tspan font-style="italic">v</tspan><tspan dy="2.2" font-size="5.5">0</tspan></text>
<text x="62.4" y="701.8" font-size="12.7" fill="#111">elongation speed on regular sequence</text>
<text x="50.6" y="732.8" font-family='"Liberation Serif", serif' font-size="13" fill="#222"><tspan font-style="italic">L</tspan><tspan dy="2.6" font-size="6">0</tspan></text>
<text x="64.2" y="732.8" font-size="15" fill="#222">=</text>
<text x="82.4" y="733.2" font-family='"Liberation Serif", serif' font-size="14" fill="#1e9a1e"><tspan font-style="italic">L</tspan><tspan dy="2.6" font-size="8.5">S</tspan></text>
<text x="97.2" y="730.6" font-size="16" fill="#222">+</text>
<text x="110.8" y="733.2" font-family='"Liberation Serif", serif' font-size="14" fill="#4a4a4a"><tspan font-style="italic">L</tspan><tspan dy="2.6" font-size="8.5">A</tspan></text>
<text x="81.8" y="784" font-size="14.2" fill="#111" font-family='"Liberation Serif", serif' stroke="#111" stroke-width="0.25">Time fold</text>
<text x="81.8" y="803.8" font-size="14.2" fill="#111" font-family='"Liberation Serif", serif' stroke="#111" stroke-width="0.25" letter-spacing="0.2">difference</text>
<text x="146.8" y="796" font-size="15.5" fill="#111" font-family='"Liberation Serif", serif' stroke="#111" stroke-width="0.25">=</text>
<path d="M160.4 790.4 H200 M183.4 774.6 H198.8 M172.8 806 H188.2" stroke="#111" stroke-width="1"/>
<text x="159.6" y="779.4" font-family='"Liberation Serif", serif' font-size="15.5" fill="#111" stroke="#111" stroke-width="0.25"><tspan font-style="italic">t</tspan> −</text>
<text x="184.6" y="771.4" font-family='"Liberation Serif", serif' font-size="13.5" fill="#111" stroke="#111" stroke-width="0.25"><tspan font-style="italic">L</tspan><tspan dy="2.4" font-size="9">0</tspan></text>
<text x="184.4" y="787.2" font-family='"Liberation Serif", serif' font-size="15.5" fill="#111" stroke="#111" stroke-width="0.25"><tspan font-style="italic">v</tspan><tspan dy="2.4" font-size="9">0</tspan></text>
<text x="173.4" y="803" font-family='"Liberation Serif", serif' font-size="13.5" fill="#111" stroke="#111" stroke-width="0.25"><tspan font-style="italic">L</tspan><tspan dy="2.4" font-size="9">I</tspan></text>
<text x="173.2" y="819.2" font-family='"Liberation Serif", serif' font-size="15.5" fill="#111" stroke="#111" stroke-width="0.25"><tspan font-style="italic">v</tspan><tspan dy="2.4" font-size="9">0</tspan></text>
</g>
<!-- panel_h -->
<g>
<text x="313.8" y="599.8" font-size="16.5" fill="#111">h</text>
<rect x="402.2" y="758.4" width="35.4" height="5.6" fill="#fff" stroke="#111" stroke-width="1.85"/>
<rect x="458.9" y="757.2" width="35.9" height="6.8" fill="#fff" stroke="#111" stroke-width="1.85"/>
<rect x="515.8" y="715.5" width="36.2" height="48.5" fill="#fff" stroke="#111" stroke-width="1.85"/>
<rect x="572.8" y="682.2" width="35.6" height="81.8" fill="#fff" stroke="#111" stroke-width="1.85"/>
<path d="M383.6 623.0 V764.0 H628.6 M383.6 764 h-4 M383.6 735.8 h-4 M383.6 707.6 h-4 M383.6 679.4 h-4 M383.6 651.2 h-4 M383.6 623 h-4 M420.6 764.0 v5 M477 764.0 v5 M533.6 764.0 v5 M590.6 764.0 v5" fill="none" stroke="#111" stroke-width="1.6" stroke-linecap="square"/>
<text x="378.20000000000005" y="768.4" font-size="12.5" fill="#111" text-anchor="end">0</text>
<text x="378.20000000000005" y="740.1999999999999" font-size="12.5" fill="#111" text-anchor="end">5</text>
<text x="378.20000000000005" y="712.0" font-size="12.5" fill="#111" text-anchor="end">10</text>
<text x="378.20000000000005" y="683.8" font-size="12.5" fill="#111" text-anchor="end">15</text>
<text x="378.20000000000005" y="655.6" font-size="12.5" fill="#111" text-anchor="end">20</text>
<text x="378.20000000000005" y="627.4" font-size="12.5" fill="#111" text-anchor="end">25</text>
<text x="420.8" y="781.2" font-size="12.5" fill="#111" text-anchor="middle">NLuc</text>
<text x="478" y="781.2" font-size="12.5" fill="#111" text-anchor="middle">GA</text>
<text x="534.4" y="782.2" font-size="12.5" fill="#111" text-anchor="middle">GP</text>
<text x="591.8" y="781.2" font-size="12.5" fill="#111" text-anchor="middle">GR</text>
<path d="M477 763.2 V749.4 M468 763.2 H486 M468 749.4 H486" stroke="#111" stroke-width="1.5" fill="none"/>
<path d="M533.6 728.8 V699.8 M523.6 728.8 H543.6 M523.6 699.8 H543.6" stroke="#111" stroke-width="1.5" fill="none"/>
<path d="M590.6 717.8 V644 M581 717.8 H600.2 M581 644 H600.2" stroke="#111" stroke-width="1.5" fill="none"/>
<rect x="480.1" y="743.6" width="5.6" height="5.6" fill="#2fc94f"/>
<rect x="469.9" y="749.4" width="5.6" height="5.6" fill="#2fc94f"/>
<rect x="480.1" y="757" width="5.6" height="5.6" fill="#2fc94f"/>
<rect x="469.9" y="755.2" width="5.6" height="5.6" fill="#2fc94f"/>
<rect x="469.9" y="759.9" width="5.6" height="5.6" fill="#2fc94f"/>
<polygon points="533.4,694.6 530.3,700 536.5,700" fill="#1f77b4"/>
<polygon points="528.2,707 525.1,712.4 531.3,712.4" fill="#1f77b4"/>
<polygon points="539.2,707 536.1,712.4 542.3,712.4" fill="#1f77b4"/>
<polygon points="533.4,714.3 530.3,719.7 536.5,719.7" fill="#1f77b4"/>
<polygon points="533.4,734.2 530.3,739.6 536.5,739.6" fill="#1f77b4"/>
<circle cx="590.4" cy="646" r="2.9" fill="#ea1420"/>
<circle cx="590.4" cy="658.2" r="2.9" fill="#ea1420"/>
<circle cx="584.4" cy="670.6" r="2.9" fill="#ea1420"/>
<circle cx="595.7" cy="667" r="2.9" fill="#ea1420"/>
<circle cx="590.4" cy="695.6" r="2.9" fill="#ea1420"/>
<circle cx="590.4" cy="748.4" r="2.9" fill="#ea1420"/>
<path d="M420.6 635.4 V631.8 H590.8 V635.4 M420.6 671 V667.4 H533.4 V671 M420.6 702.2 V698.6 H478 V702.2" fill="none" stroke="#111" stroke-width="1"/>
<text x="505.8" y="635.6" font-size="16" fill="#111" text-anchor="middle">**</text>
<text x="477.2" y="671.2" font-size="16" fill="#111" text-anchor="middle">**</text>
<text x="449.4" y="696.4" font-size="13.4" fill="#111" text-anchor="middle">n.s</text>
<text transform="translate(344.5 696.1) rotate(-90)" font-size="12.45" fill="#111" text-anchor="middle">Translation time fold</text>
<text transform="translate(359.2 694) rotate(-90)" font-size="12.65" fill="#111" text-anchor="middle">difference (DPR/NLuc)</text>
</g>
</svg>
</body></html>
